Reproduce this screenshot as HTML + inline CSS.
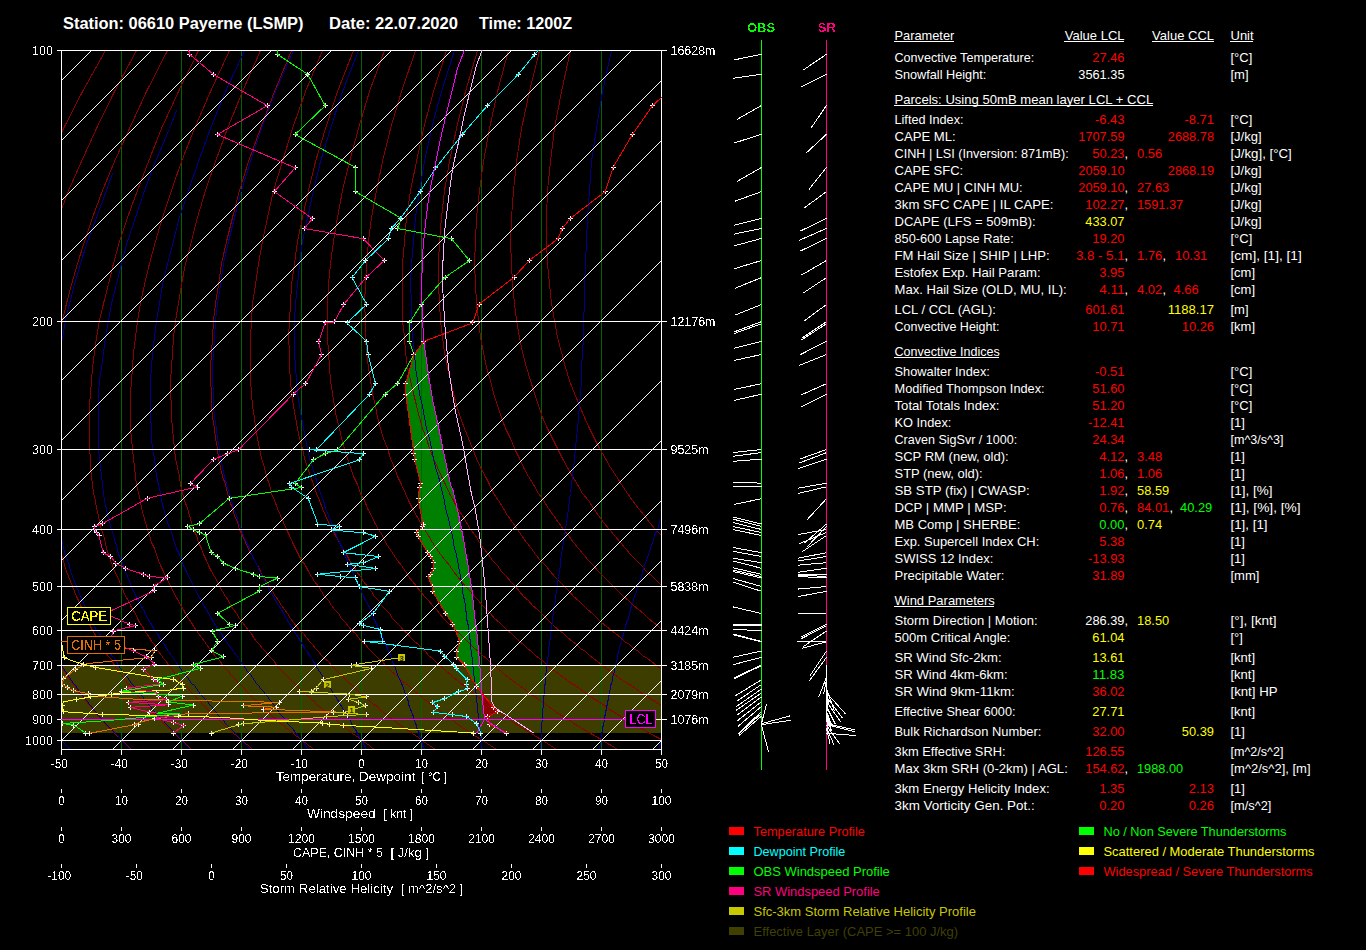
<!DOCTYPE html>
<html><head><meta charset="utf-8"><title>Sounding</title><style>html,body{margin:0;padding:0;background:#000;width:1366px;height:950px;overflow:hidden}</style></head><body>
<svg width="1366" height="950" viewBox="0 0 1366 950" style="position:absolute;left:0;top:0" font-family="'Liberation Sans', sans-serif" font-size="13px" fill="#fff">
<defs><filter id="bl" x="0" y="0" width="1" height="1" filterUnits="objectBoundingBox" color-interpolation-filters="sRGB"><feComponentTransfer><feFuncA type="discrete" tableValues="0 0 0 0 0 0 0 0 0 0 0 1 1 1 1 1 1 1 1 1"/></feComponentTransfer></filter><filter id="bl2" x="0" y="0" width="1" height="1" filterUnits="objectBoundingBox" color-interpolation-filters="sRGB"><feComponentTransfer><feFuncA type="discrete" tableValues="0 0 0 0 0 0 0 0 0 1 1 1 1 1 1 1 1 1 1 1"/></feComponentTransfer></filter><clipPath id="cp"><rect x="61" y="50" width="601" height="700"/></clipPath></defs>
<g shape-rendering="crispEdges">
<g clip-path="url(#cp)">
<rect x="61" y="665" width="600" height="68" fill="#3e3d00"/>
<polygon points="423.9,341.4 413.9,354.7 405.6,383.5 405.6,394.1 413.4,449.7 413.9,453.7 414.6,459.7 420.7,483.5 419.6,487.5 418.0,498.3 423.0,524.1 422.2,526.6 416.3,532.4 418.0,536.2 427.6,552.7 430.5,556.5 433.8,562.7 433.8,568.2 430.5,574.3 428.0,576.5 432.1,586.5 432.6,591.4 445.4,613.4 452.9,624.4 459.6,641.0 456.9,651.5 456.9,657.7 464.2,664.6 476.1,686.1 481.5,691.0 481.5,690.7 480.7,675.4 479.6,663.1 477.6,640.0 476.7,631.4 474.5,614.7 472.0,589.8 467.9,564.8 463.7,539.9 458.7,514.9 452.9,490.0 450.7,485.5 446.5,465.5 442.2,445.4 437.7,422.9 432.7,400.3 428.9,377.8 425.7,355.2 423.9,341.4" fill="#008000"/>
<polygon points="481.5,691.0 493.8,707.6 497.6,711.5 487.6,716.6 484.5,719.2 484.5,719.2 483.8,712.3 482.7,701.5" fill="#8b0000"/>
<line x1="121.5" y1="50.5" x2="121.5" y2="749.5" stroke="#006400" stroke-width="1"/>
<line x1="181.5" y1="50.5" x2="181.5" y2="749.5" stroke="#006400" stroke-width="1"/>
<line x1="241.5" y1="50.5" x2="241.5" y2="749.5" stroke="#006400" stroke-width="1"/>
<line x1="301.5" y1="50.5" x2="301.5" y2="749.5" stroke="#006400" stroke-width="1"/>
<line x1="361.5" y1="50.5" x2="361.5" y2="749.5" stroke="#006400" stroke-width="1"/>
<line x1="421.5" y1="50.5" x2="421.5" y2="749.5" stroke="#006400" stroke-width="1"/>
<line x1="481.5" y1="50.5" x2="481.5" y2="749.5" stroke="#006400" stroke-width="1"/>
<line x1="541.5" y1="50.5" x2="541.5" y2="749.5" stroke="#006400" stroke-width="1"/>
<line x1="601.5" y1="50.5" x2="601.5" y2="749.5" stroke="#006400" stroke-width="1"/>
<polyline points="70.5,749.5 68.5,747.5 66.5,745.5 64.5,743.5 62.5,741.5 61.5,739.5 59.5,737.5 57.5,735.5 55.5,733.5 53.5,731.5 51.5,729.5 49.5,727.5 48.5,725.5 46.5,723.5 44.5,720.5 42.5,718.5 40.5,716.5 38.5,714.5 37.5,711.5 35.5,709.5 33.5,706.5 31.5,704.5 29.5,701.5 27.5,699.5 25.5,696.5 24.5,694.5 22.5,691.5 20.5,688.5 18.5,685.5 16.5,683.5 15.5,680.5 13.5,677.5 11.5,674.5 9.5,671.5 7.5,668.5 6.5,665.5 4.5,661.5 2.5,658.5 0.5,655.5 -0.5,651.5 -2.5,648.5 -4.5,644.5 -6.5,641.5 -7.5,637.5 -9.5,633.5 -11.5,630.5 -12.5,626.5 -14.5,622.5 -15.5,618.5 -17.5,613.5 -19.5,609.5 -20.5,605.5 -22.5,600.5 -23.5,596.5 -24.5,591.5 -26.5,586.5 -27.5,581.5 -28.5,576.5 -30.5,571.5 -31.5,565.5 -32.5,560.5 -33.5,554.5 -34.5,548.5 -35.5,542.5 -36.5,535.5 -37.5,529.5 -37.5,522.5 -38.5,515.5 -38.5,508.5 -39.5,500.5 -39.5,493.5 -39.5,484.5 -39.5,476.5 -39.5,467.5 -38.5,458.5 -38.5,448.5 -37.5,438.5 -36.5,428.5 -34.5,417.5 -32.5,405.5 -30.5,393.5 -28.5,380.5 -25.5,367.5 -22.5,352.5 -18.5,337.5 -13.5,320.5 -8.5,303.5 -2.5,284.5 5.5,263.5 13.5,241.5 23.5,217.5 34.5,190.5 47.5,161.5 63.5,128.5 82.5,91.5 105.5,50.5" stroke="#8b0000" stroke-width="1" fill="none" />
<polyline points="131.5,749.5 129.5,747.5 127.5,745.5 125.5,743.5 123.5,741.5 121.5,739.5 119.5,737.5 116.5,735.5 114.5,733.5 112.5,731.5 110.5,729.5 108.5,727.5 106.5,725.5 104.5,723.5 102.5,720.5 100.5,718.5 98.5,716.5 96.5,714.5 94.5,711.5 92.5,709.5 90.5,706.5 88.5,704.5 86.5,701.5 84.5,699.5 82.5,696.5 80.5,694.5 78.5,691.5 76.5,688.5 74.5,685.5 72.5,683.5 70.5,680.5 68.5,677.5 66.5,674.5 64.5,671.5 62.5,668.5 60.5,665.5 58.5,661.5 56.5,658.5 54.5,655.5 52.5,651.5 50.5,648.5 48.5,644.5 46.5,641.5 44.5,637.5 42.5,633.5 40.5,630.5 38.5,626.5 37.5,622.5 35.5,618.5 33.5,613.5 31.5,609.5 29.5,605.5 28.5,600.5 26.5,596.5 24.5,591.5 22.5,586.5 21.5,581.5 19.5,576.5 18.5,571.5 16.5,565.5 15.5,560.5 13.5,554.5 12.5,548.5 11.5,542.5 10.5,535.5 9.5,529.5 8.5,522.5 7.5,515.5 6.5,508.5 5.5,500.5 5.5,493.5 4.5,484.5 4.5,476.5 4.5,467.5 4.5,458.5 4.5,448.5 4.5,438.5 5.5,428.5 6.5,417.5 7.5,405.5 9.5,393.5 11.5,380.5 13.5,367.5 16.5,352.5 20.5,337.5 24.5,320.5 28.5,303.5 34.5,284.5 41.5,263.5 48.5,241.5 58.5,217.5 68.5,190.5 81.5,161.5 96.5,128.5 114.5,91.5 136.5,50.5" stroke="#8b0000" stroke-width="1" fill="none" />
<polyline points="191.5,749.5 189.5,747.5 187.5,745.5 185.5,743.5 183.5,741.5 181.5,739.5 178.5,737.5 176.5,735.5 174.5,733.5 172.5,731.5 170.5,729.5 167.5,727.5 165.5,725.5 163.5,723.5 161.5,720.5 159.5,718.5 156.5,716.5 154.5,714.5 152.5,711.5 150.5,709.5 147.5,706.5 145.5,704.5 143.5,701.5 141.5,699.5 138.5,696.5 136.5,694.5 134.5,691.5 132.5,688.5 130.5,685.5 127.5,683.5 125.5,680.5 123.5,677.5 121.5,674.5 118.5,671.5 116.5,668.5 114.5,665.5 112.5,661.5 110.5,658.5 107.5,655.5 105.5,651.5 103.5,648.5 101.5,644.5 99.5,641.5 96.5,637.5 94.5,633.5 92.5,630.5 90.5,626.5 88.5,622.5 86.5,618.5 84.5,613.5 82.5,609.5 80.5,605.5 78.5,600.5 76.5,596.5 74.5,591.5 72.5,586.5 70.5,581.5 68.5,576.5 66.5,571.5 64.5,565.5 63.5,560.5 61.5,554.5 59.5,548.5 58.5,542.5 56.5,535.5 55.5,529.5 53.5,522.5 52.5,515.5 51.5,508.5 50.5,500.5 49.5,493.5 48.5,484.5 48.5,476.5 47.5,467.5 47.5,458.5 47.5,448.5 47.5,438.5 47.5,428.5 47.5,417.5 48.5,405.5 49.5,393.5 51.5,380.5 53.5,367.5 55.5,352.5 58.5,337.5 62.5,320.5 66.5,303.5 71.5,284.5 77.5,263.5 84.5,241.5 92.5,217.5 102.5,190.5 114.5,161.5 129.5,128.5 146.5,91.5 167.5,50.5" stroke="#8b0000" stroke-width="1" fill="none" />
<polyline points="252.5,749.5 250.5,747.5 248.5,745.5 245.5,743.5 243.5,741.5 241.5,739.5 238.5,737.5 236.5,735.5 233.5,733.5 231.5,731.5 229.5,729.5 226.5,727.5 224.5,725.5 222.5,723.5 219.5,720.5 217.5,718.5 214.5,716.5 212.5,714.5 210.5,711.5 207.5,709.5 205.5,706.5 202.5,704.5 200.5,701.5 197.5,699.5 195.5,696.5 193.5,694.5 190.5,691.5 188.5,688.5 185.5,685.5 183.5,683.5 180.5,680.5 178.5,677.5 175.5,674.5 173.5,671.5 171.5,668.5 168.5,665.5 166.5,661.5 163.5,658.5 161.5,655.5 158.5,651.5 156.5,648.5 154.5,644.5 151.5,641.5 149.5,637.5 146.5,633.5 144.5,630.5 142.5,626.5 139.5,622.5 137.5,618.5 135.5,613.5 132.5,609.5 130.5,605.5 128.5,600.5 125.5,596.5 123.5,591.5 121.5,586.5 119.5,581.5 117.5,576.5 114.5,571.5 112.5,565.5 110.5,560.5 108.5,554.5 106.5,548.5 105.5,542.5 103.5,535.5 101.5,529.5 99.5,522.5 98.5,515.5 96.5,508.5 95.5,500.5 93.5,493.5 92.5,484.5 91.5,476.5 90.5,467.5 90.5,458.5 89.5,448.5 89.5,438.5 89.5,428.5 89.5,417.5 89.5,405.5 90.5,393.5 91.5,380.5 92.5,367.5 94.5,352.5 96.5,337.5 99.5,320.5 103.5,303.5 108.5,284.5 113.5,263.5 119.5,241.5 127.5,217.5 137.5,190.5 148.5,161.5 161.5,128.5 178.5,91.5 198.5,50.5" stroke="#8b0000" stroke-width="1" fill="none" />
<polyline points="313.5,749.5 311.5,747.5 308.5,745.5 306.5,743.5 303.5,741.5 301.5,739.5 298.5,737.5 295.5,735.5 293.5,733.5 290.5,731.5 288.5,729.5 285.5,727.5 283.5,725.5 280.5,723.5 278.5,720.5 275.5,718.5 272.5,716.5 270.5,714.5 267.5,711.5 265.5,709.5 262.5,706.5 259.5,704.5 257.5,701.5 254.5,699.5 251.5,696.5 249.5,694.5 246.5,691.5 244.5,688.5 241.5,685.5 238.5,683.5 236.5,680.5 233.5,677.5 230.5,674.5 228.5,671.5 225.5,668.5 222.5,665.5 220.5,661.5 217.5,658.5 214.5,655.5 212.5,651.5 209.5,648.5 206.5,644.5 204.5,641.5 201.5,637.5 198.5,633.5 196.5,630.5 193.5,626.5 191.5,622.5 188.5,618.5 185.5,613.5 183.5,609.5 180.5,605.5 178.5,600.5 175.5,596.5 173.5,591.5 170.5,586.5 168.5,581.5 165.5,576.5 163.5,571.5 160.5,565.5 158.5,560.5 156.5,554.5 154.5,548.5 151.5,542.5 149.5,535.5 147.5,529.5 145.5,522.5 143.5,515.5 141.5,508.5 140.5,500.5 138.5,493.5 136.5,484.5 135.5,476.5 134.5,467.5 133.5,458.5 132.5,448.5 131.5,438.5 130.5,428.5 130.5,417.5 130.5,405.5 130.5,393.5 131.5,380.5 132.5,367.5 133.5,352.5 135.5,337.5 137.5,320.5 140.5,303.5 144.5,284.5 149.5,263.5 155.5,241.5 162.5,217.5 171.5,190.5 181.5,161.5 194.5,128.5 210.5,91.5 229.5,50.5" stroke="#8b0000" stroke-width="1" fill="none" />
<polyline points="374.5,749.5 371.5,747.5 369.5,745.5 366.5,743.5 363.5,741.5 361.5,739.5 358.5,737.5 355.5,735.5 352.5,733.5 350.5,731.5 347.5,729.5 344.5,727.5 341.5,725.5 339.5,723.5 336.5,720.5 333.5,718.5 330.5,716.5 328.5,714.5 325.5,711.5 322.5,709.5 319.5,706.5 316.5,704.5 314.5,701.5 311.5,699.5 308.5,696.5 305.5,694.5 302.5,691.5 299.5,688.5 297.5,685.5 294.5,683.5 291.5,680.5 288.5,677.5 285.5,674.5 282.5,671.5 279.5,668.5 276.5,665.5 274.5,661.5 271.5,658.5 268.5,655.5 265.5,651.5 262.5,648.5 259.5,644.5 256.5,641.5 253.5,637.5 251.5,633.5 248.5,630.5 245.5,626.5 242.5,622.5 239.5,618.5 236.5,613.5 233.5,609.5 230.5,605.5 228.5,600.5 225.5,596.5 222.5,591.5 219.5,586.5 217.5,581.5 214.5,576.5 211.5,571.5 208.5,565.5 206.5,560.5 203.5,554.5 201.5,548.5 198.5,542.5 196.5,535.5 193.5,529.5 191.5,522.5 189.5,515.5 187.5,508.5 184.5,500.5 182.5,493.5 180.5,484.5 179.5,476.5 177.5,467.5 175.5,458.5 174.5,448.5 173.5,438.5 172.5,428.5 171.5,417.5 171.5,405.5 170.5,393.5 170.5,380.5 171.5,367.5 172.5,352.5 173.5,337.5 175.5,320.5 178.5,303.5 181.5,284.5 185.5,263.5 191.5,241.5 197.5,217.5 205.5,190.5 215.5,161.5 227.5,128.5 242.5,91.5 260.5,50.5" stroke="#8b0000" stroke-width="1" fill="none" />
<polyline points="435.5,749.5 432.5,747.5 429.5,745.5 426.5,743.5 423.5,741.5 421.5,739.5 418.5,737.5 415.5,735.5 412.5,733.5 409.5,731.5 406.5,729.5 403.5,727.5 400.5,725.5 397.5,723.5 394.5,720.5 391.5,718.5 388.5,716.5 385.5,714.5 382.5,711.5 379.5,709.5 377.5,706.5 373.5,704.5 370.5,701.5 367.5,699.5 364.5,696.5 361.5,694.5 358.5,691.5 355.5,688.5 352.5,685.5 349.5,683.5 346.5,680.5 343.5,677.5 340.5,674.5 337.5,671.5 334.5,668.5 331.5,665.5 328.5,661.5 324.5,658.5 321.5,655.5 318.5,651.5 315.5,648.5 312.5,644.5 309.5,641.5 306.5,637.5 303.5,633.5 299.5,630.5 296.5,626.5 293.5,622.5 290.5,618.5 287.5,613.5 284.5,609.5 281.5,605.5 278.5,600.5 275.5,596.5 272.5,591.5 269.5,586.5 266.5,581.5 262.5,576.5 260.5,571.5 257.5,565.5 254.5,560.5 251.5,554.5 248.5,548.5 245.5,542.5 242.5,535.5 239.5,529.5 237.5,522.5 234.5,515.5 232.5,508.5 229.5,500.5 227.5,493.5 225.5,484.5 222.5,476.5 220.5,467.5 218.5,458.5 217.5,448.5 215.5,438.5 214.5,428.5 212.5,417.5 211.5,405.5 211.5,393.5 210.5,380.5 210.5,367.5 211.5,352.5 212.5,337.5 213.5,320.5 215.5,303.5 218.5,284.5 221.5,263.5 226.5,241.5 232.5,217.5 239.5,190.5 248.5,161.5 260.5,128.5 274.5,91.5 291.5,50.5" stroke="#8b0000" stroke-width="1" fill="none" />
<polyline points="496.5,749.5 493.5,747.5 490.5,745.5 487.5,743.5 484.5,741.5 481.5,739.5 477.5,737.5 474.5,735.5 471.5,733.5 468.5,731.5 465.5,729.5 462.5,727.5 459.5,725.5 456.5,723.5 453.5,720.5 450.5,718.5 446.5,716.5 443.5,714.5 440.5,711.5 437.5,709.5 434.5,706.5 431.5,704.5 427.5,701.5 424.5,699.5 421.5,696.5 418.5,694.5 414.5,691.5 411.5,688.5 408.5,685.5 405.5,683.5 401.5,680.5 398.5,677.5 395.5,674.5 391.5,671.5 388.5,668.5 385.5,665.5 382.5,661.5 378.5,658.5 375.5,655.5 371.5,651.5 368.5,648.5 365.5,644.5 361.5,641.5 358.5,637.5 355.5,633.5 351.5,630.5 348.5,626.5 345.5,622.5 341.5,618.5 338.5,613.5 334.5,609.5 331.5,605.5 328.5,600.5 324.5,596.5 321.5,591.5 318.5,586.5 314.5,581.5 311.5,576.5 308.5,571.5 305.5,565.5 301.5,560.5 298.5,554.5 295.5,548.5 292.5,542.5 289.5,535.5 286.5,529.5 283.5,522.5 280.5,515.5 277.5,508.5 274.5,500.5 271.5,493.5 269.5,484.5 266.5,476.5 264.5,467.5 261.5,458.5 259.5,448.5 257.5,438.5 255.5,428.5 254.5,417.5 252.5,405.5 251.5,393.5 250.5,380.5 250.5,367.5 250.5,352.5 250.5,337.5 251.5,320.5 252.5,303.5 255.5,284.5 258.5,263.5 262.5,241.5 267.5,217.5 273.5,190.5 282.5,161.5 292.5,128.5 305.5,91.5 322.5,50.5" stroke="#8b0000" stroke-width="1" fill="none" />
<polyline points="556.5,749.5 553.5,747.5 550.5,745.5 547.5,743.5 544.5,741.5 541.5,739.5 537.5,737.5 534.5,735.5 531.5,733.5 528.5,731.5 524.5,729.5 521.5,727.5 518.5,725.5 514.5,723.5 511.5,720.5 508.5,718.5 504.5,716.5 501.5,714.5 498.5,711.5 494.5,709.5 491.5,706.5 488.5,704.5 484.5,701.5 481.5,699.5 477.5,696.5 474.5,694.5 471.5,691.5 467.5,688.5 464.5,685.5 460.5,683.5 457.5,680.5 453.5,677.5 450.5,674.5 446.5,671.5 443.5,668.5 439.5,665.5 435.5,661.5 432.5,658.5 428.5,655.5 425.5,651.5 421.5,648.5 418.5,644.5 414.5,641.5 410.5,637.5 407.5,633.5 403.5,630.5 400.5,626.5 396.5,622.5 392.5,618.5 389.5,613.5 385.5,609.5 381.5,605.5 378.5,600.5 374.5,596.5 371.5,591.5 367.5,586.5 363.5,581.5 360.5,576.5 356.5,571.5 353.5,565.5 349.5,560.5 346.5,554.5 342.5,548.5 339.5,542.5 335.5,535.5 332.5,529.5 328.5,522.5 325.5,515.5 322.5,508.5 319.5,500.5 316.5,493.5 313.5,484.5 310.5,476.5 307.5,467.5 304.5,458.5 302.5,448.5 299.5,438.5 297.5,428.5 295.5,417.5 293.5,405.5 291.5,393.5 290.5,380.5 289.5,367.5 289.5,352.5 288.5,337.5 289.5,320.5 290.5,303.5 291.5,284.5 294.5,263.5 297.5,241.5 302.5,217.5 308.5,190.5 315.5,161.5 325.5,128.5 337.5,91.5 353.5,50.5" stroke="#8b0000" stroke-width="1" fill="none" />
<polyline points="617.5,749.5 614.5,747.5 611.5,745.5 607.5,743.5 604.5,741.5 601.5,739.5 597.5,737.5 594.5,735.5 590.5,733.5 587.5,731.5 583.5,729.5 580.5,727.5 577.5,725.5 573.5,723.5 570.5,720.5 566.5,718.5 563.5,716.5 559.5,714.5 555.5,711.5 552.5,709.5 548.5,706.5 545.5,704.5 541.5,701.5 538.5,699.5 534.5,696.5 530.5,694.5 527.5,691.5 523.5,688.5 519.5,685.5 516.5,683.5 512.5,680.5 508.5,677.5 504.5,674.5 501.5,671.5 497.5,668.5 493.5,665.5 489.5,661.5 486.5,658.5 482.5,655.5 478.5,651.5 474.5,648.5 470.5,644.5 467.5,641.5 463.5,637.5 459.5,633.5 455.5,630.5 451.5,626.5 447.5,622.5 443.5,618.5 439.5,613.5 436.5,609.5 432.5,605.5 428.5,600.5 424.5,596.5 420.5,591.5 416.5,586.5 412.5,581.5 408.5,576.5 405.5,571.5 401.5,565.5 397.5,560.5 393.5,554.5 389.5,548.5 385.5,542.5 382.5,535.5 378.5,529.5 374.5,522.5 371.5,515.5 367.5,508.5 364.5,500.5 360.5,493.5 357.5,484.5 353.5,476.5 350.5,467.5 347.5,458.5 344.5,448.5 341.5,438.5 339.5,428.5 336.5,417.5 334.5,405.5 332.5,393.5 330.5,380.5 329.5,367.5 328.5,352.5 327.5,337.5 327.5,320.5 327.5,303.5 328.5,284.5 330.5,263.5 333.5,241.5 337.5,217.5 342.5,190.5 349.5,161.5 358.5,128.5 369.5,91.5 384.5,50.5" stroke="#8b0000" stroke-width="1" fill="none" />
<polyline points="678.5,749.5 675.5,747.5 671.5,745.5 668.5,743.5 664.5,741.5 661.5,739.5 657.5,737.5 653.5,735.5 650.5,733.5 646.5,731.5 643.5,729.5 639.5,727.5 635.5,725.5 632.5,723.5 628.5,720.5 624.5,718.5 621.5,716.5 617.5,714.5 613.5,711.5 609.5,709.5 606.5,706.5 602.5,704.5 598.5,701.5 594.5,699.5 590.5,696.5 587.5,694.5 583.5,691.5 579.5,688.5 575.5,685.5 571.5,683.5 567.5,680.5 563.5,677.5 559.5,674.5 555.5,671.5 551.5,668.5 547.5,665.5 543.5,661.5 539.5,658.5 535.5,655.5 531.5,651.5 527.5,648.5 523.5,644.5 519.5,641.5 515.5,637.5 511.5,633.5 507.5,630.5 503.5,626.5 499.5,622.5 494.5,618.5 490.5,613.5 486.5,609.5 482.5,605.5 478.5,600.5 474.5,596.5 470.5,591.5 465.5,586.5 461.5,581.5 457.5,576.5 453.5,571.5 449.5,565.5 445.5,560.5 440.5,554.5 436.5,548.5 432.5,542.5 428.5,535.5 424.5,529.5 420.5,522.5 416.5,515.5 412.5,508.5 408.5,500.5 405.5,493.5 401.5,484.5 397.5,476.5 394.5,467.5 390.5,458.5 387.5,448.5 383.5,438.5 380.5,428.5 377.5,417.5 375.5,405.5 372.5,393.5 370.5,380.5 368.5,367.5 366.5,352.5 365.5,337.5 365.5,320.5 364.5,303.5 365.5,284.5 366.5,263.5 368.5,241.5 371.5,217.5 376.5,190.5 382.5,161.5 390.5,128.5 401.5,91.5 415.5,50.5" stroke="#8b0000" stroke-width="1" fill="none" />
<polyline points="739.5,749.5 735.5,747.5 732.5,745.5 728.5,743.5 724.5,741.5 721.5,739.5 717.5,737.5 713.5,735.5 709.5,733.5 705.5,731.5 702.5,729.5 698.5,727.5 694.5,725.5 690.5,723.5 686.5,720.5 682.5,718.5 679.5,716.5 675.5,714.5 671.5,711.5 667.5,709.5 663.5,706.5 659.5,704.5 655.5,701.5 651.5,699.5 647.5,696.5 643.5,694.5 639.5,691.5 635.5,688.5 631.5,685.5 627.5,683.5 622.5,680.5 618.5,677.5 614.5,674.5 610.5,671.5 606.5,668.5 602.5,665.5 597.5,661.5 593.5,658.5 589.5,655.5 585.5,651.5 580.5,648.5 576.5,644.5 572.5,641.5 567.5,637.5 563.5,633.5 559.5,630.5 554.5,626.5 550.5,622.5 546.5,618.5 541.5,613.5 537.5,609.5 532.5,605.5 528.5,600.5 523.5,596.5 519.5,591.5 515.5,586.5 510.5,581.5 506.5,576.5 501.5,571.5 497.5,565.5 492.5,560.5 488.5,554.5 483.5,548.5 479.5,542.5 475.5,535.5 470.5,529.5 466.5,522.5 462.5,515.5 457.5,508.5 453.5,500.5 449.5,493.5 445.5,484.5 441.5,476.5 437.5,467.5 433.5,458.5 429.5,448.5 426.5,438.5 422.5,428.5 419.5,417.5 416.5,405.5 413.5,393.5 410.5,380.5 407.5,367.5 405.5,352.5 404.5,337.5 402.5,320.5 402.5,303.5 402.5,284.5 402.5,263.5 404.5,241.5 406.5,217.5 410.5,190.5 416.5,161.5 423.5,128.5 433.5,91.5 446.5,50.5" stroke="#8b0000" stroke-width="1" fill="none" />
<polyline points="800.5,749.5 796.5,747.5 792.5,745.5 788.5,743.5 784.5,741.5 781.5,739.5 777.5,737.5 773.5,735.5 769.5,733.5 765.5,731.5 761.5,729.5 757.5,727.5 753.5,725.5 749.5,723.5 745.5,720.5 741.5,718.5 737.5,716.5 733.5,714.5 728.5,711.5 724.5,709.5 720.5,706.5 716.5,704.5 712.5,701.5 708.5,699.5 703.5,696.5 699.5,694.5 695.5,691.5 691.5,688.5 686.5,685.5 682.5,683.5 678.5,680.5 673.5,677.5 669.5,674.5 665.5,671.5 660.5,668.5 656.5,665.5 651.5,661.5 647.5,658.5 642.5,655.5 638.5,651.5 633.5,648.5 629.5,644.5 624.5,641.5 620.5,637.5 615.5,633.5 611.5,630.5 606.5,626.5 601.5,622.5 597.5,618.5 592.5,613.5 587.5,609.5 583.5,605.5 578.5,600.5 573.5,596.5 569.5,591.5 564.5,586.5 559.5,581.5 554.5,576.5 550.5,571.5 545.5,565.5 540.5,560.5 535.5,554.5 531.5,548.5 526.5,542.5 521.5,535.5 517.5,529.5 512.5,522.5 507.5,515.5 503.5,508.5 498.5,500.5 493.5,493.5 489.5,484.5 485.5,476.5 480.5,467.5 476.5,458.5 472.5,448.5 468.5,438.5 464.5,428.5 460.5,417.5 456.5,405.5 453.5,393.5 450.5,380.5 447.5,367.5 444.5,352.5 442.5,337.5 440.5,320.5 439.5,303.5 438.5,284.5 438.5,263.5 439.5,241.5 441.5,217.5 444.5,190.5 449.5,161.5 456.5,128.5 465.5,91.5 477.5,50.5" stroke="#8b0000" stroke-width="1" fill="none" />
<polyline points="861.5,749.5 857.5,747.5 853.5,745.5 849.5,743.5 845.5,741.5 841.5,739.5 836.5,737.5 832.5,735.5 828.5,733.5 824.5,731.5 820.5,729.5 816.5,727.5 812.5,725.5 807.5,723.5 803.5,720.5 799.5,718.5 795.5,716.5 790.5,714.5 786.5,711.5 782.5,709.5 777.5,706.5 773.5,704.5 769.5,701.5 764.5,699.5 760.5,696.5 755.5,694.5 751.5,691.5 746.5,688.5 742.5,685.5 737.5,683.5 733.5,680.5 728.5,677.5 724.5,674.5 719.5,671.5 715.5,668.5 710.5,665.5 705.5,661.5 701.5,658.5 696.5,655.5 691.5,651.5 686.5,648.5 682.5,644.5 677.5,641.5 672.5,637.5 667.5,633.5 662.5,630.5 658.5,626.5 653.5,622.5 648.5,618.5 643.5,613.5 638.5,609.5 633.5,605.5 628.5,600.5 623.5,596.5 618.5,591.5 613.5,586.5 608.5,581.5 603.5,576.5 598.5,571.5 593.5,565.5 588.5,560.5 583.5,554.5 578.5,548.5 573.5,542.5 568.5,535.5 563.5,529.5 558.5,522.5 553.5,515.5 548.5,508.5 543.5,500.5 538.5,493.5 533.5,484.5 528.5,476.5 523.5,467.5 519.5,458.5 514.5,448.5 510.5,438.5 505.5,428.5 501.5,417.5 497.5,405.5 493.5,393.5 490.5,380.5 486.5,367.5 483.5,352.5 480.5,337.5 478.5,320.5 476.5,303.5 475.5,284.5 474.5,263.5 475.5,241.5 476.5,217.5 479.5,190.5 483.5,161.5 489.5,128.5 497.5,91.5 508.5,50.5" stroke="#8b0000" stroke-width="1" fill="none" />
<polyline points="921.5,749.5 917.5,747.5 913.5,745.5 909.5,743.5 905.5,741.5 901.5,739.5 896.5,737.5 892.5,735.5 888.5,733.5 883.5,731.5 879.5,729.5 875.5,727.5 870.5,725.5 866.5,723.5 862.5,720.5 857.5,718.5 853.5,716.5 848.5,714.5 844.5,711.5 839.5,709.5 835.5,706.5 830.5,704.5 826.5,701.5 821.5,699.5 816.5,696.5 812.5,694.5 807.5,691.5 802.5,688.5 798.5,685.5 793.5,683.5 788.5,680.5 783.5,677.5 779.5,674.5 774.5,671.5 769.5,668.5 764.5,665.5 759.5,661.5 754.5,658.5 749.5,655.5 744.5,651.5 739.5,648.5 734.5,644.5 729.5,641.5 724.5,637.5 719.5,633.5 714.5,630.5 709.5,626.5 704.5,622.5 699.5,618.5 694.5,613.5 688.5,609.5 683.5,605.5 678.5,600.5 673.5,596.5 667.5,591.5 662.5,586.5 657.5,581.5 652.5,576.5 646.5,571.5 641.5,565.5 636.5,560.5 630.5,554.5 625.5,548.5 620.5,542.5 614.5,535.5 609.5,529.5 603.5,522.5 598.5,515.5 593.5,508.5 588.5,500.5 582.5,493.5 577.5,484.5 572.5,476.5 567.5,467.5 562.5,458.5 557.5,448.5 552.5,438.5 547.5,428.5 542.5,417.5 538.5,405.5 534.5,393.5 530.5,380.5 526.5,367.5 522.5,352.5 519.5,337.5 516.5,320.5 514.5,303.5 512.5,284.5 511.5,263.5 510.5,241.5 511.5,217.5 513.5,190.5 516.5,161.5 521.5,128.5 529.5,91.5 539.5,50.5" stroke="#8b0000" stroke-width="1" fill="none" />
<polyline points="982.5,749.5 978.5,747.5 974.5,745.5 969.5,743.5 965.5,741.5 961.5,739.5 956.5,737.5 952.5,735.5 947.5,733.5 943.5,731.5 938.5,729.5 934.5,727.5 929.5,725.5 925.5,723.5 920.5,720.5 915.5,718.5 911.5,716.5 906.5,714.5 901.5,711.5 897.5,709.5 892.5,706.5 887.5,704.5 882.5,701.5 878.5,699.5 873.5,696.5 868.5,694.5 863.5,691.5 858.5,688.5 853.5,685.5 848.5,683.5 843.5,680.5 838.5,677.5 833.5,674.5 828.5,671.5 823.5,668.5 818.5,665.5 813.5,661.5 808.5,658.5 803.5,655.5 798.5,651.5 792.5,648.5 787.5,644.5 782.5,641.5 777.5,637.5 771.5,633.5 766.5,630.5 761.5,626.5 755.5,622.5 750.5,618.5 744.5,613.5 739.5,609.5 734.5,605.5 728.5,600.5 723.5,596.5 717.5,591.5 711.5,586.5 706.5,581.5 700.5,576.5 695.5,571.5 689.5,565.5 683.5,560.5 678.5,554.5 672.5,548.5 666.5,542.5 661.5,535.5 655.5,529.5 649.5,522.5 644.5,515.5 638.5,508.5 632.5,500.5 627.5,493.5 621.5,484.5 616.5,476.5 610.5,467.5 605.5,458.5 599.5,448.5 594.5,438.5 589.5,428.5 584.5,417.5 579.5,405.5 574.5,393.5 569.5,380.5 565.5,367.5 561.5,352.5 557.5,337.5 554.5,320.5 551.5,303.5 549.5,284.5 547.5,263.5 546.5,241.5 546.5,217.5 547.5,190.5 550.5,161.5 554.5,128.5 561.5,91.5 570.5,50.5" stroke="#8b0000" stroke-width="1" fill="none" />
<polyline points="69.5,749.5 68.5,747.5 66.5,745.5 64.5,743.5 62.5,741.5 61.5,739.5 59.5,737.5 57.5,735.5 55.5,733.5 53.5,731.5 51.5,729.5 50.5,727.5 48.5,725.5 46.5,723.5 44.5,720.5 42.5,718.5 41.5,716.5 39.5,714.5 37.5,711.5 35.5,709.5 33.5,706.5 31.5,704.5 30.5,701.5 28.5,699.5 26.5,696.5 24.5,694.5 22.5,691.5 21.5,688.5 19.5,685.5 17.5,683.5 15.5,680.5 13.5,677.5 11.5,674.5 10.5,671.5 8.5,668.5 6.5,665.5 4.5,661.5 3.5,658.5 1.5,655.5 -0.5,651.5 -2.5,648.5 -3.5,644.5 -5.5,641.5 -7.5,637.5 -8.5,633.5 -10.5,630.5 -12.5,626.5 -13.5,622.5 -15.5,618.5 -16.5,613.5 -18.5,609.5 -19.5,605.5 -21.5,600.5 -22.5,596.5 -24.5,591.5 -25.5,586.5 -26.5,581.5 -28.5,576.5 -29.5,571.5 -30.5,565.5 -31.5,560.5 -32.5,554.5 -33.5,548.5 -34.5,542.5 -35.5,535.5 -36.5,529.5 -37.5,522.5 -37.5,515.5 -38.5,508.5 -38.5,500.5 -38.5,493.5 -38.5,484.5 -38.5,476.5 -38.5,467.5 -38.5,458.5 -37.5,448.5 -36.5,438.5 -35.5,428.5 -34.5,417.5 -32.5,405.5 -30.5,393.5 -27.5,380.5 -24.5,367.5 -21.5,352.5 -17.5,337.5 -13.5,320.5 -7.5,303.5 -4.5,291.5" stroke="#00008b" stroke-width="1" fill="none" />
<polyline points="130.5,749.5 128.5,747.5 126.5,745.5 124.5,743.5 122.5,741.5 121.5,739.5 119.5,737.5 117.5,735.5 115.5,733.5 113.5,731.5 111.5,729.5 109.5,727.5 107.5,725.5 105.5,723.5 103.5,720.5 101.5,718.5 99.5,716.5 97.5,714.5 95.5,711.5 93.5,709.5 91.5,706.5 89.5,704.5 87.5,701.5 85.5,699.5 83.5,696.5 81.5,694.5 79.5,691.5 77.5,688.5 75.5,685.5 73.5,683.5 71.5,680.5 69.5,677.5 67.5,674.5 65.5,671.5 63.5,668.5 61.5,665.5 59.5,661.5 57.5,658.5 55.5,655.5 53.5,651.5 52.5,648.5 50.5,644.5 48.5,641.5 46.5,637.5 44.5,633.5 42.5,630.5 40.5,626.5 38.5,622.5 36.5,618.5 35.5,613.5 33.5,609.5 31.5,605.5 29.5,600.5 27.5,596.5 26.5,591.5 24.5,586.5 23.5,581.5 21.5,576.5 19.5,571.5 18.5,565.5 17.5,560.5 15.5,554.5 14.5,548.5 13.5,542.5 11.5,535.5 10.5,529.5 9.5,522.5 8.5,515.5 7.5,508.5 7.5,500.5 6.5,493.5 6.5,484.5 5.5,476.5 5.5,467.5 5.5,458.5 6.5,448.5 6.5,438.5 7.5,428.5 8.5,417.5 9.5,405.5 10.5,393.5 12.5,380.5 15.5,367.5 18.5,352.5 21.5,337.5 25.5,320.5 30.5,303.5 36.5,284.5 42.5,263.5 50.5,241.5 52.5,234.5" stroke="#00008b" stroke-width="1" fill="none" />
<polyline points="190.5,749.5 188.5,747.5 186.5,745.5 184.5,743.5 182.5,741.5 181.5,739.5 179.5,737.5 177.5,735.5 175.5,733.5 173.5,731.5 171.5,729.5 169.5,727.5 167.5,725.5 165.5,723.5 163.5,720.5 161.5,718.5 159.5,716.5 156.5,714.5 154.5,711.5 152.5,709.5 150.5,706.5 148.5,704.5 146.5,701.5 144.5,699.5 142.5,696.5 140.5,694.5 137.5,691.5 135.5,688.5 133.5,685.5 131.5,683.5 129.5,680.5 127.5,677.5 125.5,674.5 122.5,671.5 120.5,668.5 118.5,665.5 116.5,661.5 114.5,658.5 111.5,655.5 109.5,651.5 107.5,648.5 105.5,644.5 103.5,641.5 101.5,637.5 99.5,633.5 96.5,630.5 94.5,626.5 92.5,622.5 90.5,618.5 88.5,613.5 86.5,609.5 84.5,605.5 82.5,600.5 80.5,596.5 78.5,591.5 76.5,586.5 74.5,581.5 72.5,576.5 70.5,571.5 69.5,565.5 67.5,560.5 65.5,554.5 63.5,548.5 62.5,542.5 60.5,535.5 59.5,529.5 58.5,522.5 56.5,515.5 55.5,508.5 54.5,500.5 53.5,493.5 52.5,484.5 51.5,476.5 51.5,467.5 51.5,458.5 50.5,448.5 50.5,438.5 51.5,428.5 51.5,417.5 52.5,405.5 53.5,393.5 54.5,380.5 56.5,367.5 59.5,352.5 62.5,337.5 65.5,320.5 69.5,303.5 74.5,284.5 80.5,263.5 87.5,241.5 96.5,217.5 106.5,190.5 112.5,173.5" stroke="#00008b" stroke-width="1" fill="none" />
<polyline points="249.5,749.5 248.5,747.5 246.5,745.5 244.5,743.5 242.5,741.5 241.5,739.5 239.5,737.5 237.5,735.5 235.5,733.5 233.5,731.5 231.5,729.5 229.5,727.5 227.5,725.5 225.5,723.5 223.5,720.5 221.5,718.5 219.5,716.5 217.5,714.5 215.5,711.5 213.5,709.5 211.5,706.5 209.5,704.5 207.5,701.5 205.5,699.5 202.5,696.5 200.5,694.5 198.5,691.5 196.5,688.5 194.5,685.5 191.5,683.5 189.5,680.5 187.5,677.5 185.5,674.5 182.5,671.5 180.5,668.5 178.5,665.5 175.5,661.5 173.5,658.5 171.5,655.5 168.5,651.5 166.5,648.5 164.5,644.5 161.5,641.5 159.5,637.5 157.5,633.5 154.5,630.5 152.5,626.5 150.5,622.5 147.5,618.5 145.5,613.5 143.5,609.5 140.5,605.5 138.5,600.5 136.5,596.5 133.5,591.5 131.5,586.5 129.5,581.5 127.5,576.5 125.5,571.5 123.5,565.5 121.5,560.5 118.5,554.5 117.5,548.5 115.5,542.5 113.5,535.5 111.5,529.5 109.5,522.5 107.5,515.5 106.5,508.5 104.5,500.5 103.5,493.5 102.5,484.5 101.5,476.5 100.5,467.5 99.5,458.5 98.5,448.5 98.5,438.5 98.5,428.5 98.5,417.5 98.5,405.5 98.5,393.5 99.5,380.5 101.5,367.5 103.5,352.5 105.5,337.5 108.5,320.5 111.5,303.5 116.5,284.5 121.5,263.5 127.5,241.5 135.5,217.5 144.5,190.5 155.5,161.5 169.5,128.5 176.5,110.5" stroke="#00008b" stroke-width="1" fill="none" />
<polyline points="308.5,749.5 306.5,747.5 305.5,745.5 304.5,743.5 302.5,741.5 301.5,739.5 299.5,737.5 297.5,735.5 296.5,733.5 294.5,731.5 293.5,729.5 291.5,727.5 289.5,725.5 287.5,723.5 286.5,720.5 284.5,718.5 282.5,716.5 280.5,714.5 278.5,711.5 277.5,709.5 275.5,706.5 273.5,704.5 271.5,701.5 269.5,699.5 267.5,696.5 265.5,694.5 263.5,691.5 260.5,688.5 258.5,685.5 256.5,683.5 254.5,680.5 252.5,677.5 250.5,674.5 247.5,671.5 245.5,668.5 243.5,665.5 240.5,661.5 238.5,658.5 236.5,655.5 233.5,651.5 231.5,648.5 228.5,644.5 226.5,641.5 223.5,637.5 221.5,633.5 218.5,630.5 216.5,626.5 213.5,622.5 211.5,618.5 208.5,613.5 206.5,609.5 203.5,605.5 201.5,600.5 198.5,596.5 196.5,591.5 193.5,586.5 191.5,581.5 188.5,576.5 186.5,571.5 183.5,565.5 181.5,560.5 179.5,554.5 176.5,548.5 174.5,542.5 172.5,535.5 170.5,529.5 167.5,522.5 165.5,515.5 163.5,508.5 161.5,500.5 160.5,493.5 158.5,484.5 156.5,476.5 155.5,467.5 154.5,458.5 152.5,448.5 151.5,438.5 151.5,428.5 150.5,417.5 150.5,405.5 150.5,393.5 150.5,380.5 151.5,367.5 152.5,352.5 154.5,337.5 156.5,320.5 159.5,303.5 162.5,284.5 167.5,263.5 173.5,241.5 179.5,217.5 188.5,190.5 198.5,161.5 210.5,128.5 225.5,91.5 244.5,50.5" stroke="#00008b" stroke-width="1" fill="none" />
<polyline points="366.5,749.5 365.5,747.5 364.5,745.5 363.5,743.5 362.5,741.5 361.5,739.5 359.5,737.5 358.5,735.5 357.5,733.5 356.5,731.5 355.5,729.5 353.5,727.5 352.5,725.5 351.5,723.5 350.5,720.5 348.5,718.5 347.5,716.5 346.5,714.5 344.5,711.5 343.5,709.5 341.5,706.5 340.5,704.5 338.5,701.5 337.5,699.5 335.5,696.5 333.5,694.5 332.5,691.5 330.5,688.5 328.5,685.5 326.5,683.5 325.5,680.5 323.5,677.5 321.5,674.5 319.5,671.5 317.5,668.5 315.5,665.5 313.5,661.5 311.5,658.5 309.5,655.5 307.5,651.5 304.5,648.5 302.5,644.5 300.5,641.5 298.5,637.5 295.5,633.5 293.5,630.5 291.5,626.5 288.5,622.5 286.5,618.5 283.5,613.5 281.5,609.5 278.5,605.5 275.5,600.5 273.5,596.5 270.5,591.5 267.5,586.5 265.5,581.5 262.5,576.5 259.5,571.5 257.5,565.5 254.5,560.5 251.5,554.5 249.5,548.5 246.5,542.5 243.5,535.5 241.5,529.5 238.5,522.5 236.5,515.5 233.5,508.5 231.5,500.5 229.5,493.5 226.5,484.5 224.5,476.5 222.5,467.5 220.5,458.5 219.5,448.5 217.5,438.5 216.5,428.5 214.5,417.5 213.5,405.5 213.5,393.5 212.5,380.5 212.5,367.5 213.5,352.5 214.5,337.5 215.5,320.5 217.5,303.5 220.5,284.5 223.5,263.5 228.5,241.5 234.5,217.5 241.5,190.5 250.5,161.5 261.5,128.5 275.5,91.5 293.5,50.5" stroke="#00008b" stroke-width="1" fill="none" />
<polyline points="424.5,749.5 423.5,747.5 422.5,745.5 422.5,743.5 421.5,741.5 421.5,739.5 420.5,737.5 419.5,735.5 419.5,733.5 418.5,731.5 417.5,729.5 416.5,727.5 416.5,725.5 415.5,723.5 414.5,720.5 413.5,718.5 413.5,716.5 412.5,714.5 411.5,711.5 410.5,709.5 409.5,706.5 408.5,704.5 408.5,701.5 407.5,699.5 406.5,696.5 405.5,694.5 404.5,691.5 403.5,688.5 402.5,685.5 401.5,683.5 400.5,680.5 398.5,677.5 397.5,674.5 396.5,671.5 395.5,668.5 394.5,665.5 392.5,661.5 391.5,658.5 390.5,655.5 388.5,651.5 387.5,648.5 385.5,644.5 384.5,641.5 382.5,637.5 380.5,633.5 379.5,630.5 377.5,626.5 375.5,622.5 373.5,618.5 372.5,613.5 370.5,609.5 368.5,605.5 365.5,600.5 363.5,596.5 361.5,591.5 359.5,586.5 357.5,581.5 354.5,576.5 352.5,571.5 349.5,565.5 347.5,560.5 344.5,554.5 342.5,548.5 339.5,542.5 336.5,535.5 334.5,529.5 331.5,522.5 328.5,515.5 325.5,508.5 323.5,500.5 320.5,493.5 317.5,484.5 315.5,476.5 312.5,467.5 309.5,458.5 307.5,448.5 305.5,438.5 303.5,428.5 301.5,417.5 299.5,405.5 297.5,393.5 296.5,380.5 295.5,367.5 294.5,352.5 294.5,337.5 294.5,320.5 295.5,303.5 297.5,284.5 299.5,263.5 302.5,241.5 307.5,217.5 313.5,190.5 320.5,161.5 330.5,128.5 342.5,91.5 358.5,50.5" stroke="#00008b" stroke-width="1" fill="none" />
<polyline points="482.5,749.5 481.5,747.5 481.5,745.5 481.5,743.5 481.5,741.5 481.5,739.5 480.5,737.5 480.5,735.5 480.5,733.5 480.5,731.5 479.5,729.5 479.5,727.5 479.5,725.5 479.5,723.5 478.5,720.5 478.5,718.5 478.5,716.5 478.5,714.5 477.5,711.5 477.5,709.5 477.5,706.5 477.5,704.5 476.5,701.5 476.5,699.5 476.5,696.5 476.5,694.5 475.5,691.5 475.5,688.5 475.5,685.5 474.5,683.5 474.5,680.5 474.5,677.5 473.5,674.5 473.5,671.5 473.5,668.5 472.5,665.5 472.5,661.5 472.5,658.5 471.5,655.5 471.5,651.5 470.5,648.5 470.5,644.5 470.5,641.5 469.5,637.5 469.5,633.5 468.5,630.5 468.5,626.5 467.5,622.5 466.5,618.5 466.5,613.5 465.5,609.5 465.5,605.5 464.5,600.5 463.5,596.5 462.5,591.5 462.5,586.5 461.5,581.5 460.5,576.5 459.5,571.5 458.5,565.5 457.5,560.5 456.5,554.5 454.5,548.5 453.5,542.5 452.5,535.5 450.5,529.5 449.5,522.5 447.5,515.5 445.5,508.5 444.5,500.5 442.5,493.5 440.5,484.5 438.5,476.5 435.5,467.5 433.5,458.5 431.5,448.5 429.5,438.5 426.5,428.5 424.5,417.5 422.5,405.5 419.5,393.5 417.5,380.5 415.5,367.5 414.5,352.5 412.5,337.5 411.5,320.5 411.5,303.5 410.5,284.5 411.5,263.5 413.5,241.5 415.5,217.5 419.5,190.5 424.5,161.5 431.5,128.5 441.5,91.5 454.5,50.5" stroke="#00008b" stroke-width="1" fill="none" />
<polyline points="540.5,749.5 540.5,747.5 540.5,745.5 540.5,743.5 540.5,741.5 541.5,739.5 541.5,737.5 541.5,735.5 541.5,733.5 541.5,731.5 541.5,729.5 541.5,727.5 541.5,725.5 541.5,723.5 542.5,720.5 542.5,718.5 542.5,716.5 542.5,714.5 542.5,711.5 542.5,709.5 543.5,706.5 543.5,704.5 543.5,701.5 543.5,699.5 543.5,696.5 544.5,694.5 544.5,691.5 544.5,688.5 544.5,685.5 545.5,683.5 545.5,680.5 545.5,677.5 545.5,674.5 546.5,671.5 546.5,668.5 546.5,665.5 547.5,661.5 547.5,658.5 548.5,655.5 548.5,651.5 548.5,648.5 549.5,644.5 549.5,641.5 550.5,637.5 550.5,633.5 551.5,630.5 551.5,626.5 552.5,622.5 552.5,618.5 553.5,613.5 553.5,609.5 554.5,605.5 555.5,600.5 555.5,596.5 556.5,591.5 557.5,586.5 557.5,581.5 558.5,576.5 559.5,571.5 560.5,565.5 560.5,560.5 561.5,554.5 562.5,548.5 563.5,542.5 564.5,535.5 565.5,529.5 566.5,522.5 567.5,515.5 568.5,508.5 569.5,500.5 570.5,493.5 571.5,484.5 572.5,476.5 573.5,467.5 574.5,458.5 575.5,448.5 576.5,438.5 577.5,428.5 578.5,417.5 579.5,405.5 580.5,393.5 581.5,380.5 581.5,367.5 582.5,352.5 583.5,337.5 583.5,320.5 584.5,303.5 584.5,284.5 585.5,263.5 586.5,241.5 587.5,217.5 589.5,190.5 591.5,161.5 596.5,128.5 602.5,91.5 611.5,50.5" stroke="#00008b" stroke-width="1" fill="none" />
<polyline points="599.5,749.5 599.5,747.5 600.5,745.5 600.5,743.5 600.5,741.5 601.5,739.5 601.5,737.5 601.5,735.5 601.5,733.5 602.5,731.5 602.5,729.5 602.5,727.5 603.5,725.5 603.5,723.5 604.5,720.5 604.5,718.5 604.5,716.5 605.5,714.5 605.5,711.5 606.5,709.5 606.5,706.5 607.5,704.5 607.5,701.5 608.5,699.5 608.5,696.5 609.5,694.5 609.5,691.5 610.5,688.5 610.5,685.5 611.5,683.5 612.5,680.5 612.5,677.5 613.5,674.5 614.5,671.5 614.5,668.5 615.5,665.5 616.5,661.5 617.5,658.5 617.5,655.5 618.5,651.5 619.5,648.5 620.5,644.5 621.5,641.5 622.5,637.5 623.5,633.5 624.5,630.5 625.5,626.5 626.5,622.5 628.5,618.5 629.5,613.5 630.5,609.5 631.5,605.5 633.5,600.5 634.5,596.5 636.5,591.5 637.5,586.5 639.5,581.5 641.5,576.5 642.5,571.5 644.5,565.5 646.5,560.5 648.5,554.5 650.5,548.5 652.5,542.5 654.5,535.5 657.5,529.5 659.5,522.5 662.5,515.5 664.5,508.5 667.5,500.5 670.5,493.5 673.5,484.5 677.5,476.5 680.5,467.5 684.5,458.5 688.5,448.5 692.5,438.5 696.5,428.5 700.5,417.5 705.5,405.5 710.5,393.5 716.5,380.5 722.5,367.5 728.5,352.5 735.5,337.5 742.5,320.5 749.5,303.5 758.5,284.5 767.5,263.5 776.5,241.5 787.5,217.5 798.5,190.5 810.5,161.5 824.5,128.5 838.5,91.5 854.5,50.5" stroke="#00008b" stroke-width="1" fill="none" />
<polyline points="659.5,749.5 659.5,747.5 659.5,745.5 660.5,743.5 660.5,741.5 661.5,739.5 661.5,737.5 661.5,735.5 662.5,733.5 662.5,731.5 663.5,729.5 663.5,727.5 664.5,725.5 664.5,723.5 665.5,720.5 665.5,718.5 666.5,716.5 666.5,714.5 667.5,711.5 667.5,709.5 668.5,706.5 669.5,704.5 669.5,701.5 670.5,699.5 671.5,696.5 671.5,694.5 672.5,691.5 673.5,688.5 674.5,685.5 674.5,683.5 675.5,680.5 676.5,677.5 677.5,674.5 678.5,671.5 679.5,668.5 680.5,665.5 681.5,661.5 682.5,658.5 683.5,655.5 684.5,651.5 685.5,648.5 686.5,644.5 687.5,641.5 689.5,637.5 690.5,633.5 691.5,630.5 693.5,626.5 694.5,622.5 696.5,618.5 697.5,613.5 699.5,609.5 700.5,605.5 702.5,600.5 704.5,596.5 706.5,591.5 708.5,586.5 710.5,581.5 712.5,576.5 714.5,571.5 716.5,565.5 719.5,560.5 721.5,554.5 724.5,548.5 726.5,542.5 729.5,535.5 732.5,529.5 735.5,522.5 738.5,515.5 742.5,508.5 745.5,500.5 749.5,493.5 753.5,484.5 757.5,476.5 762.5,467.5 766.5,458.5 771.5,448.5 776.5,438.5 782.5,428.5 788.5,417.5 794.5,405.5 801.5,393.5 808.5,380.5 815.5,367.5 824.5,352.5 833.5,337.5 842.5,320.5 853.5,303.5 864.5,284.5 876.5,263.5 890.5,241.5 905.5,217.5 922.5,190.5 941.5,161.5 963.5,128.5 987.5,91.5 1015.5,50.5" stroke="#00008b" stroke-width="1" fill="none" />
<line x1="-787.5" y1="749.5" x2="-88.5" y2="50.5" stroke="#fff" stroke-width="1"/>
<line x1="-727.5" y1="749.5" x2="-28.5" y2="50.5" stroke="#fff" stroke-width="1"/>
<line x1="-667.5" y1="749.5" x2="31.5" y2="50.5" stroke="#fff" stroke-width="1"/>
<line x1="-607.5" y1="749.5" x2="91.5" y2="50.5" stroke="#fff" stroke-width="1"/>
<line x1="-547.5" y1="749.5" x2="151.5" y2="50.5" stroke="#fff" stroke-width="1"/>
<line x1="-487.5" y1="749.5" x2="211.5" y2="50.5" stroke="#fff" stroke-width="1"/>
<line x1="-427.5" y1="749.5" x2="271.5" y2="50.5" stroke="#fff" stroke-width="1"/>
<line x1="-367.5" y1="749.5" x2="331.5" y2="50.5" stroke="#fff" stroke-width="1"/>
<line x1="-307.5" y1="749.5" x2="391.5" y2="50.5" stroke="#fff" stroke-width="1"/>
<line x1="-247.5" y1="749.5" x2="451.5" y2="50.5" stroke="#fff" stroke-width="1"/>
<line x1="-187.5" y1="749.5" x2="511.5" y2="50.5" stroke="#fff" stroke-width="1"/>
<line x1="-127.5" y1="749.5" x2="571.5" y2="50.5" stroke="#fff" stroke-width="1"/>
<line x1="-67.5" y1="749.5" x2="631.5" y2="50.5" stroke="#fff" stroke-width="1"/>
<line x1="-7.5" y1="749.5" x2="691.5" y2="50.5" stroke="#fff" stroke-width="1"/>
<line x1="52.5" y1="749.5" x2="751.5" y2="50.5" stroke="#fff" stroke-width="1"/>
<line x1="112.5" y1="749.5" x2="811.5" y2="50.5" stroke="#fff" stroke-width="1"/>
<line x1="172.5" y1="749.5" x2="871.5" y2="50.5" stroke="#fff" stroke-width="1"/>
<line x1="232.5" y1="749.5" x2="931.5" y2="50.5" stroke="#fff" stroke-width="1"/>
<line x1="292.5" y1="749.5" x2="991.5" y2="50.5" stroke="#fff" stroke-width="1"/>
<line x1="352.5" y1="749.5" x2="1051.5" y2="50.5" stroke="#fff" stroke-width="1"/>
<line x1="412.5" y1="749.5" x2="1111.5" y2="50.5" stroke="#fff" stroke-width="1"/>
<line x1="472.5" y1="749.5" x2="1171.5" y2="50.5" stroke="#fff" stroke-width="1"/>
<line x1="532.5" y1="749.5" x2="1231.5" y2="50.5" stroke="#fff" stroke-width="1"/>
<line x1="592.5" y1="749.5" x2="1291.5" y2="50.5" stroke="#fff" stroke-width="1"/>
<line x1="652.5" y1="749.5" x2="1351.5" y2="50.5" stroke="#fff" stroke-width="1"/>
<line x1="712.5" y1="749.5" x2="1411.5" y2="50.5" stroke="#fff" stroke-width="1"/>
</g>
<line x1="56.5" y1="50.5" x2="666.5" y2="50.5" stroke="#fff" stroke-width="1"/>
<line x1="56.5" y1="321.5" x2="666.5" y2="321.5" stroke="#fff" stroke-width="1"/>
<line x1="56.5" y1="449.5" x2="666.5" y2="449.5" stroke="#fff" stroke-width="1"/>
<line x1="56.5" y1="529.5" x2="666.5" y2="529.5" stroke="#fff" stroke-width="1"/>
<line x1="56.5" y1="586.5" x2="666.5" y2="586.5" stroke="#fff" stroke-width="1"/>
<line x1="56.5" y1="630.5" x2="666.5" y2="630.5" stroke="#fff" stroke-width="1"/>
<line x1="56.5" y1="665.5" x2="666.5" y2="665.5" stroke="#fff" stroke-width="1"/>
<line x1="56.5" y1="694.5" x2="666.5" y2="694.5" stroke="#fff" stroke-width="1"/>
<line x1="56.5" y1="719.5" x2="666.5" y2="719.5" stroke="#fff" stroke-width="1"/>
<line x1="56.5" y1="740.5" x2="661.5" y2="740.5" stroke="#fff" stroke-width="1"/>
<rect x="61.5" y="50.5" width="600" height="699" fill="none" stroke="#fff"/>
<line x1="61.5" y1="749.5" x2="61.5" y2="754.5" stroke="#fff" stroke-width="1"/>
<line x1="61.5" y1="788.5" x2="61.5" y2="792.5" stroke="#fff" stroke-width="1"/>
<line x1="61.5" y1="826.5" x2="61.5" y2="830.5" stroke="#fff" stroke-width="1"/>
<line x1="121.5" y1="749.5" x2="121.5" y2="754.5" stroke="#fff" stroke-width="1"/>
<line x1="121.5" y1="788.5" x2="121.5" y2="792.5" stroke="#fff" stroke-width="1"/>
<line x1="121.5" y1="826.5" x2="121.5" y2="830.5" stroke="#fff" stroke-width="1"/>
<line x1="181.5" y1="749.5" x2="181.5" y2="754.5" stroke="#fff" stroke-width="1"/>
<line x1="181.5" y1="788.5" x2="181.5" y2="792.5" stroke="#fff" stroke-width="1"/>
<line x1="181.5" y1="826.5" x2="181.5" y2="830.5" stroke="#fff" stroke-width="1"/>
<line x1="241.5" y1="749.5" x2="241.5" y2="754.5" stroke="#fff" stroke-width="1"/>
<line x1="241.5" y1="788.5" x2="241.5" y2="792.5" stroke="#fff" stroke-width="1"/>
<line x1="241.5" y1="826.5" x2="241.5" y2="830.5" stroke="#fff" stroke-width="1"/>
<line x1="301.5" y1="749.5" x2="301.5" y2="754.5" stroke="#fff" stroke-width="1"/>
<line x1="301.5" y1="788.5" x2="301.5" y2="792.5" stroke="#fff" stroke-width="1"/>
<line x1="301.5" y1="826.5" x2="301.5" y2="830.5" stroke="#fff" stroke-width="1"/>
<line x1="361.5" y1="749.5" x2="361.5" y2="754.5" stroke="#fff" stroke-width="1"/>
<line x1="361.5" y1="788.5" x2="361.5" y2="792.5" stroke="#fff" stroke-width="1"/>
<line x1="361.5" y1="826.5" x2="361.5" y2="830.5" stroke="#fff" stroke-width="1"/>
<line x1="421.5" y1="749.5" x2="421.5" y2="754.5" stroke="#fff" stroke-width="1"/>
<line x1="421.5" y1="788.5" x2="421.5" y2="792.5" stroke="#fff" stroke-width="1"/>
<line x1="421.5" y1="826.5" x2="421.5" y2="830.5" stroke="#fff" stroke-width="1"/>
<line x1="481.5" y1="749.5" x2="481.5" y2="754.5" stroke="#fff" stroke-width="1"/>
<line x1="481.5" y1="788.5" x2="481.5" y2="792.5" stroke="#fff" stroke-width="1"/>
<line x1="481.5" y1="826.5" x2="481.5" y2="830.5" stroke="#fff" stroke-width="1"/>
<line x1="541.5" y1="749.5" x2="541.5" y2="754.5" stroke="#fff" stroke-width="1"/>
<line x1="541.5" y1="788.5" x2="541.5" y2="792.5" stroke="#fff" stroke-width="1"/>
<line x1="541.5" y1="826.5" x2="541.5" y2="830.5" stroke="#fff" stroke-width="1"/>
<line x1="601.5" y1="749.5" x2="601.5" y2="754.5" stroke="#fff" stroke-width="1"/>
<line x1="601.5" y1="788.5" x2="601.5" y2="792.5" stroke="#fff" stroke-width="1"/>
<line x1="601.5" y1="826.5" x2="601.5" y2="830.5" stroke="#fff" stroke-width="1"/>
<line x1="661.5" y1="749.5" x2="661.5" y2="754.5" stroke="#fff" stroke-width="1"/>
<line x1="661.5" y1="788.5" x2="661.5" y2="792.5" stroke="#fff" stroke-width="1"/>
<line x1="661.5" y1="826.5" x2="661.5" y2="830.5" stroke="#fff" stroke-width="1"/>
<line x1="61.5" y1="863.5" x2="61.5" y2="867.5" stroke="#fff" stroke-width="1"/>
<line x1="136.5" y1="863.5" x2="136.5" y2="867.5" stroke="#fff" stroke-width="1"/>
<line x1="211.5" y1="863.5" x2="211.5" y2="867.5" stroke="#fff" stroke-width="1"/>
<line x1="286.5" y1="863.5" x2="286.5" y2="867.5" stroke="#fff" stroke-width="1"/>
<line x1="361.5" y1="863.5" x2="361.5" y2="867.5" stroke="#fff" stroke-width="1"/>
<line x1="436.5" y1="863.5" x2="436.5" y2="867.5" stroke="#fff" stroke-width="1"/>
<line x1="511.5" y1="863.5" x2="511.5" y2="867.5" stroke="#fff" stroke-width="1"/>
<line x1="586.5" y1="863.5" x2="586.5" y2="867.5" stroke="#fff" stroke-width="1"/>
<line x1="661.5" y1="863.5" x2="661.5" y2="867.5" stroke="#fff" stroke-width="1"/>
<g clip-path="url(#cp)">
<line x1="61" y1="719.5" x2="626" y2="719.5" stroke="#ff00ff"/>
<path d="M152 650.5h5M154.5 648v5" stroke="#fff" stroke-width="1" fill="none"/>
<path d="M149 657.5h5M151.5 655v5" stroke="#fff" stroke-width="1" fill="none"/>
<path d="M73 669.5h5M75.5 667v5" stroke="#fff" stroke-width="1" fill="none"/>
<path d="M61 678.5h5M63.5 676v5" stroke="#fff" stroke-width="1" fill="none"/>
<path d="M60 684.5h5M62.5 682v5" stroke="#fff" stroke-width="1" fill="none"/>
<path d="M65 687.5h5M67.5 685v5" stroke="#fff" stroke-width="1" fill="none"/>
<path d="M71 690.5h5M73.5 688v5" stroke="#fff" stroke-width="1" fill="none"/>
<path d="M86 693.5h5M88.5 691v5" stroke="#fff" stroke-width="1" fill="none"/>
<path d="M88 696.5h5M90.5 694v5" stroke="#fff" stroke-width="1" fill="none"/>
<path d="M277 702.5h5M279.5 700v5" stroke="#fff" stroke-width="1" fill="none"/>
<path d="M241 705.5h5M243.5 703v5" stroke="#fff" stroke-width="1" fill="none"/>
<path d="M274 707.5h5M276.5 705v5" stroke="#fff" stroke-width="1" fill="none"/>
<path d="M261 709.5h5M263.5 707v5" stroke="#fff" stroke-width="1" fill="none"/>
<path d="M341 712.5h5M343.5 710v5" stroke="#fff" stroke-width="1" fill="none"/>
<path d="M186 713.5h5M188.5 711v5" stroke="#fff" stroke-width="1" fill="none"/>
<path d="M132 724.5h5M134.5 722v5" stroke="#fff" stroke-width="1" fill="none"/>
<path d="M136 724.5h5M138.5 722v5" stroke="#fff" stroke-width="1" fill="none"/>
<path d="M87 733.5h5M89.5 731v5" stroke="#fff" stroke-width="1" fill="none"/>
<polyline points="61.0,641.5 100.0,644.0 125.2,648.2 154.4,650.8 151.3,657.4 117.5,660.5 86.7,663.6 75.5,669.2 63.2,678.9 62.7,684.1 67.3,687.7 73.9,690.7 88.8,693.8 90.8,696.2 117.5,697.9 138.0,699.4 196.0,700.7 279.2,702.3 243.0,705.8 276.1,707.2 263.8,709.2 343.7,712.3 188.0,713.5 146.2,720.5 134.9,724.0 138.0,724.0 89.8,733.3" stroke="#e07000" stroke-width="1" fill="none"/>
<path d="M62 657.5h5M64.5 655v5" stroke="#fff" stroke-width="1" fill="none"/>
<path d="M81 664.5h5M83.5 662v5" stroke="#fff" stroke-width="1" fill="none"/>
<path d="M93 667.5h5M95.5 665v5" stroke="#fff" stroke-width="1" fill="none"/>
<path d="M171 679.5h5M173.5 677v5" stroke="#fff" stroke-width="1" fill="none"/>
<path d="M180 684.5h5M182.5 682v5" stroke="#fff" stroke-width="1" fill="none"/>
<path d="M181 688.5h5M183.5 686v5" stroke="#fff" stroke-width="1" fill="none"/>
<path d="M109 694.5h5M111.5 692v5" stroke="#fff" stroke-width="1" fill="none"/>
<path d="M74 699.5h5M76.5 697v5" stroke="#fff" stroke-width="1" fill="none"/>
<path d="M60 705.5h5M62.5 703v5" stroke="#fff" stroke-width="1" fill="none"/>
<path d="M61 711.5h5M63.5 709v5" stroke="#fff" stroke-width="1" fill="none"/>
<path d="M100 714.5h5M102.5 712v5" stroke="#fff" stroke-width="1" fill="none"/>
<path d="M320 723.5h5M322.5 721v5" stroke="#fff" stroke-width="1" fill="none"/>
<path d="M327 724.5h5M329.5 722v5" stroke="#fff" stroke-width="1" fill="none"/>
<path d="M341 725.5h5M343.5 723v5" stroke="#fff" stroke-width="1" fill="none"/>
<path d="M471 733.5h5M473.5 731v5" stroke="#fff" stroke-width="1" fill="none"/>
<polyline points="62.7,645.0 63.0,651.3 64.2,657.4 71.4,660.5 83.2,664.1 95.5,667.5 152.3,676.9 173.9,679.5 182.1,684.1 183.1,688.0 168.7,690.2 148.8,691.2 121.6,692.8 111.3,694.3 90.8,696.9 76.5,699.4 63.2,702.0 62.7,705.6 63.0,711.7 102.6,714.3 158.5,715.8 188.2,716.4 219.6,717.3 267.0,720.6 322.2,723.0 329.1,724.2 343.7,725.3 380.0,727.3 473.8,733.0" stroke="#ffff00" stroke-width="1" fill="none"/>
<path d="M209 733.5h5M211.5 731v5" stroke="#fff" stroke-width="1" fill="none"/>
<path d="M236 724.5h5M238.5 722v5" stroke="#fff" stroke-width="1" fill="none"/>
<path d="M241 723.5h5M243.5 721v5" stroke="#fff" stroke-width="1" fill="none"/>
<path d="M324 716.5h5M326.5 714v5" stroke="#fff" stroke-width="1" fill="none"/>
<path d="M345 715.5h5M347.5 713v5" stroke="#fff" stroke-width="1" fill="none"/>
<path d="M364 714.5h5M366.5 712v5" stroke="#fff" stroke-width="1" fill="none"/>
<path d="M331 712.5h5M333.5 710v5" stroke="#fff" stroke-width="1" fill="none"/>
<path d="M341 712.5h5M343.5 710v5" stroke="#fff" stroke-width="1" fill="none"/>
<path d="M363 705.5h5M365.5 703v5" stroke="#fff" stroke-width="1" fill="none"/>
<path d="M356 702.5h5M358.5 700v5" stroke="#fff" stroke-width="1" fill="none"/>
<path d="M346 699.5h5M348.5 697v5" stroke="#fff" stroke-width="1" fill="none"/>
<path d="M364 696.5h5M366.5 694v5" stroke="#fff" stroke-width="1" fill="none"/>
<path d="M347 694.5h5M349.5 692v5" stroke="#fff" stroke-width="1" fill="none"/>
<path d="M297 691.5h5M299.5 689v5" stroke="#fff" stroke-width="1" fill="none"/>
<path d="M309 691.5h5M311.5 689v5" stroke="#fff" stroke-width="1" fill="none"/>
<path d="M314 688.5h5M316.5 686v5" stroke="#fff" stroke-width="1" fill="none"/>
<path d="M321 679.5h5M323.5 677v5" stroke="#fff" stroke-width="1" fill="none"/>
<path d="M369 668.5h5M371.5 666v5" stroke="#fff" stroke-width="1" fill="none"/>
<path d="M349 665.5h5M351.5 663v5" stroke="#fff" stroke-width="1" fill="none"/>
<path d="M354 664.5h5M356.5 662v5" stroke="#fff" stroke-width="1" fill="none"/>
<polyline points="211.5,733.0 238.4,724.9 243.0,723.8 326.0,716.9 347.6,715.3 366.8,714.6 333.0,712.3 343.7,712.3 351.8,710.0 365.2,705.8 358.3,702.3 348.3,699.2 366.8,696.9 349.1,694.1 299.1,691.5 311.4,691.5 316.0,688.4 323.0,679.7 371.4,668.4 351.4,665.4 356.8,664.3 399.0,657.8" stroke="#c8c800" stroke-width="1" fill="none"/>
<path d="M187 54.5h5M189.5 52v5" stroke="#fff" stroke-width="1" fill="none"/>
<path d="M211 74.5h5M213.5 72v5" stroke="#fff" stroke-width="1" fill="none"/>
<path d="M265 105.5h5M267.5 103v5" stroke="#fff" stroke-width="1" fill="none"/>
<path d="M215 134.5h5M217.5 132v5" stroke="#fff" stroke-width="1" fill="none"/>
<path d="M293 167.5h5M295.5 165v5" stroke="#fff" stroke-width="1" fill="none"/>
<path d="M272 191.5h5M274.5 189v5" stroke="#fff" stroke-width="1" fill="none"/>
<path d="M310 218.5h5M312.5 216v5" stroke="#fff" stroke-width="1" fill="none"/>
<path d="M302 228.5h5M304.5 226v5" stroke="#fff" stroke-width="1" fill="none"/>
<path d="M361 238.5h5M363.5 236v5" stroke="#fff" stroke-width="1" fill="none"/>
<path d="M382 260.5h5M384.5 258v5" stroke="#fff" stroke-width="1" fill="none"/>
<path d="M364 277.5h5M366.5 275v5" stroke="#fff" stroke-width="1" fill="none"/>
<path d="M341 304.5h5M343.5 302v5" stroke="#fff" stroke-width="1" fill="none"/>
<path d="M332 321.5h5M334.5 319v5" stroke="#fff" stroke-width="1" fill="none"/>
<path d="M323 322.5h5M325.5 320v5" stroke="#fff" stroke-width="1" fill="none"/>
<path d="M316 341.5h5M318.5 339v5" stroke="#fff" stroke-width="1" fill="none"/>
<path d="M319 354.5h5M321.5 352v5" stroke="#fff" stroke-width="1" fill="none"/>
<path d="M303 383.5h5M305.5 381v5" stroke="#fff" stroke-width="1" fill="none"/>
<path d="M291 394.5h5M293.5 392v5" stroke="#fff" stroke-width="1" fill="none"/>
<path d="M236 449.5h5M238.5 447v5" stroke="#fff" stroke-width="1" fill="none"/>
<path d="M225 453.5h5M227.5 451v5" stroke="#fff" stroke-width="1" fill="none"/>
<path d="M211 459.5h5M213.5 457v5" stroke="#fff" stroke-width="1" fill="none"/>
<path d="M188 483.5h5M190.5 481v5" stroke="#fff" stroke-width="1" fill="none"/>
<path d="M195 487.5h5M197.5 485v5" stroke="#fff" stroke-width="1" fill="none"/>
<path d="M145 498.5h5M147.5 496v5" stroke="#fff" stroke-width="1" fill="none"/>
<path d="M100 523.5h5M102.5 521v5" stroke="#fff" stroke-width="1" fill="none"/>
<path d="M92 526.5h5M94.5 524v5" stroke="#fff" stroke-width="1" fill="none"/>
<path d="M92 529.5h5M94.5 527v5" stroke="#fff" stroke-width="1" fill="none"/>
<path d="M94 532.5h5M96.5 530v5" stroke="#fff" stroke-width="1" fill="none"/>
<path d="M97 535.5h5M99.5 533v5" stroke="#fff" stroke-width="1" fill="none"/>
<path d="M101 552.5h5M103.5 550v5" stroke="#fff" stroke-width="1" fill="none"/>
<path d="M108 556.5h5M110.5 554v5" stroke="#fff" stroke-width="1" fill="none"/>
<path d="M113 563.5h5M115.5 561v5" stroke="#fff" stroke-width="1" fill="none"/>
<path d="M123 568.5h5M125.5 566v5" stroke="#fff" stroke-width="1" fill="none"/>
<path d="M141 574.5h5M143.5 572v5" stroke="#fff" stroke-width="1" fill="none"/>
<path d="M147 576.5h5M149.5 574v5" stroke="#fff" stroke-width="1" fill="none"/>
<path d="M165 577.5h5M167.5 575v5" stroke="#fff" stroke-width="1" fill="none"/>
<path d="M151 586.5h5M153.5 584v5" stroke="#fff" stroke-width="1" fill="none"/>
<path d="M152 590.5h5M154.5 588v5" stroke="#fff" stroke-width="1" fill="none"/>
<path d="M103 613.5h5M105.5 611v5" stroke="#fff" stroke-width="1" fill="none"/>
<path d="M127 624.5h5M129.5 622v5" stroke="#fff" stroke-width="1" fill="none"/>
<path d="M133 625.5h5M135.5 623v5" stroke="#fff" stroke-width="1" fill="none"/>
<path d="M111 631.5h5M113.5 629v5" stroke="#fff" stroke-width="1" fill="none"/>
<path d="M108 641.5h5M110.5 639v5" stroke="#fff" stroke-width="1" fill="none"/>
<path d="M131 650.5h5M133.5 648v5" stroke="#fff" stroke-width="1" fill="none"/>
<path d="M144 656.5h5M146.5 654v5" stroke="#fff" stroke-width="1" fill="none"/>
<path d="M152 664.5h5M154.5 662v5" stroke="#fff" stroke-width="1" fill="none"/>
<path d="M141 669.5h5M143.5 667v5" stroke="#fff" stroke-width="1" fill="none"/>
<path d="M151 679.5h5M153.5 677v5" stroke="#fff" stroke-width="1" fill="none"/>
<path d="M157 684.5h5M159.5 682v5" stroke="#fff" stroke-width="1" fill="none"/>
<path d="M124 688.5h5M126.5 686v5" stroke="#fff" stroke-width="1" fill="none"/>
<path d="M154 692.5h5M156.5 690v5" stroke="#fff" stroke-width="1" fill="none"/>
<path d="M156 696.5h5M158.5 694v5" stroke="#fff" stroke-width="1" fill="none"/>
<path d="M164 699.5h5M166.5 697v5" stroke="#fff" stroke-width="1" fill="none"/>
<path d="M126 702.5h5M128.5 700v5" stroke="#fff" stroke-width="1" fill="none"/>
<path d="M166 704.5h5M168.5 702v5" stroke="#fff" stroke-width="1" fill="none"/>
<path d="M128 707.5h5M130.5 705v5" stroke="#fff" stroke-width="1" fill="none"/>
<path d="M147 712.5h5M149.5 710v5" stroke="#fff" stroke-width="1" fill="none"/>
<path d="M176 715.5h5M178.5 713v5" stroke="#fff" stroke-width="1" fill="none"/>
<path d="M152 718.5h5M154.5 716v5" stroke="#fff" stroke-width="1" fill="none"/>
<path d="M171 722.5h5M173.5 720v5" stroke="#fff" stroke-width="1" fill="none"/>
<path d="M181 725.5h5M183.5 723v5" stroke="#fff" stroke-width="1" fill="none"/>
<path d="M171 733.5h5M173.5 731v5" stroke="#fff" stroke-width="1" fill="none"/>
<polyline points="188.5,49.0 189.6,54.3 213.4,74.3 267.3,105.7 217.4,134.5 295.1,167.8 274.3,191.6 312.4,218.7 304.4,228.5 363.3,238.7 384.3,260.6 366.3,277.2 343.8,304.3 334.5,321.9 325.2,322.9 318.7,341.4 321.5,354.7 305.7,383.5 293.1,394.1 238.7,449.7 227.5,453.7 213.4,459.5 190.4,483.5 197.1,487.0 147.3,498.3 102.4,523.8 94.5,526.3 94.9,529.4 96.5,532.9 99.0,535.7 103.2,552.9 110.7,556.5 115.7,563.2 125.6,568.5 143.4,574.3 149.4,576.5 167.2,577.8 153.1,586.5 154.4,590.9 105.0,613.4 129.8,624.4 135.6,625.5 113.2,631.0 110.0,641.3 133.1,650.8 146.4,656.9 154.8,664.1 143.1,669.1 153.1,679.1 159.7,684.1 126.5,688.2 156.4,692.4 158.1,696.5 166.4,699.8 128.1,702.3 168.1,704.8 130.6,707.3 149.8,712.3 178.0,715.6 154.8,718.1 173.1,722.3 183.9,725.6 173.1,733.1" stroke="#ff0080" stroke-width="1" fill="none"/>
<path d="M275 54.5h5M277.5 52v5" stroke="#fff" stroke-width="1" fill="none"/>
<path d="M305 74.5h5M307.5 72v5" stroke="#fff" stroke-width="1" fill="none"/>
<path d="M323 105.5h5M325.5 103v5" stroke="#fff" stroke-width="1" fill="none"/>
<path d="M293 134.5h5M295.5 132v5" stroke="#fff" stroke-width="1" fill="none"/>
<path d="M353 167.5h5M355.5 165v5" stroke="#fff" stroke-width="1" fill="none"/>
<path d="M353 191.5h5M355.5 189v5" stroke="#fff" stroke-width="1" fill="none"/>
<path d="M399 218.5h5M401.5 216v5" stroke="#fff" stroke-width="1" fill="none"/>
<path d="M395 228.5h5M397.5 226v5" stroke="#fff" stroke-width="1" fill="none"/>
<path d="M449 238.5h5M451.5 236v5" stroke="#fff" stroke-width="1" fill="none"/>
<path d="M467 260.5h5M469.5 258v5" stroke="#fff" stroke-width="1" fill="none"/>
<path d="M443 277.5h5M445.5 275v5" stroke="#fff" stroke-width="1" fill="none"/>
<path d="M419 304.5h5M421.5 302v5" stroke="#fff" stroke-width="1" fill="none"/>
<path d="M407 322.5h5M409.5 320v5" stroke="#fff" stroke-width="1" fill="none"/>
<path d="M407 341.5h5M409.5 339v5" stroke="#fff" stroke-width="1" fill="none"/>
<path d="M411 354.5h5M413.5 352v5" stroke="#fff" stroke-width="1" fill="none"/>
<path d="M395 383.5h5M397.5 381v5" stroke="#fff" stroke-width="1" fill="none"/>
<path d="M383 394.5h5M385.5 392v5" stroke="#fff" stroke-width="1" fill="none"/>
<path d="M335 449.5h5M337.5 447v5" stroke="#fff" stroke-width="1" fill="none"/>
<path d="M323 453.5h5M325.5 451v5" stroke="#fff" stroke-width="1" fill="none"/>
<path d="M311 459.5h5M313.5 457v5" stroke="#fff" stroke-width="1" fill="none"/>
<path d="M293 483.5h5M295.5 481v5" stroke="#fff" stroke-width="1" fill="none"/>
<path d="M299 487.5h5M301.5 485v5" stroke="#fff" stroke-width="1" fill="none"/>
<path d="M227 498.5h5M229.5 496v5" stroke="#fff" stroke-width="1" fill="none"/>
<path d="M197 523.5h5M199.5 521v5" stroke="#fff" stroke-width="1" fill="none"/>
<path d="M185 526.5h5M187.5 524v5" stroke="#fff" stroke-width="1" fill="none"/>
<path d="M191 529.5h5M193.5 527v5" stroke="#fff" stroke-width="1" fill="none"/>
<path d="M197 532.5h5M199.5 530v5" stroke="#fff" stroke-width="1" fill="none"/>
<path d="M203 534.5h5M205.5 532v5" stroke="#fff" stroke-width="1" fill="none"/>
<path d="M209 552.5h5M211.5 550v5" stroke="#fff" stroke-width="1" fill="none"/>
<path d="M215 556.5h5M217.5 554v5" stroke="#fff" stroke-width="1" fill="none"/>
<path d="M221 563.5h5M223.5 561v5" stroke="#fff" stroke-width="1" fill="none"/>
<path d="M233 568.5h5M235.5 566v5" stroke="#fff" stroke-width="1" fill="none"/>
<path d="M251 574.5h5M253.5 572v5" stroke="#fff" stroke-width="1" fill="none"/>
<path d="M257 576.5h5M259.5 574v5" stroke="#fff" stroke-width="1" fill="none"/>
<path d="M275 578.5h5M277.5 576v5" stroke="#fff" stroke-width="1" fill="none"/>
<path d="M257 586.5h5M259.5 584v5" stroke="#fff" stroke-width="1" fill="none"/>
<path d="M257 590.5h5M259.5 588v5" stroke="#fff" stroke-width="1" fill="none"/>
<path d="M215 613.5h5M217.5 611v5" stroke="#fff" stroke-width="1" fill="none"/>
<path d="M227 624.5h5M229.5 622v5" stroke="#fff" stroke-width="1" fill="none"/>
<path d="M233 625.5h5M235.5 623v5" stroke="#fff" stroke-width="1" fill="none"/>
<path d="M210 631.5h5M212.5 629v5" stroke="#fff" stroke-width="1" fill="none"/>
<path d="M215 641.5h5M217.5 639v5" stroke="#fff" stroke-width="1" fill="none"/>
<path d="M209 650.5h5M211.5 648v5" stroke="#fff" stroke-width="1" fill="none"/>
<path d="M221 656.5h5M223.5 654v5" stroke="#fff" stroke-width="1" fill="none"/>
<path d="M191 664.5h5M193.5 662v5" stroke="#fff" stroke-width="1" fill="none"/>
<path d="M198 668.5h5M200.5 666v5" stroke="#fff" stroke-width="1" fill="none"/>
<path d="M155 679.5h5M157.5 677v5" stroke="#fff" stroke-width="1" fill="none"/>
<path d="M161 684.5h5M163.5 682v5" stroke="#fff" stroke-width="1" fill="none"/>
<path d="M119 691.5h5M121.5 689v5" stroke="#fff" stroke-width="1" fill="none"/>
<path d="M180 696.5h5M182.5 694v5" stroke="#fff" stroke-width="1" fill="none"/>
<path d="M166 702.5h5M168.5 700v5" stroke="#fff" stroke-width="1" fill="none"/>
<path d="M191 705.5h5M193.5 703v5" stroke="#fff" stroke-width="1" fill="none"/>
<path d="M60 723.5h5M62.5 721v5" stroke="#fff" stroke-width="1" fill="none"/>
<path d="M71 725.5h5M73.5 723v5" stroke="#fff" stroke-width="1" fill="none"/>
<path d="M83 733.5h5M85.5 731v5" stroke="#fff" stroke-width="1" fill="none"/>
<polyline points="277.3,49.0 277.3,54.3 307.7,74.3 325.2,105.7 295.1,134.5 355.3,167.3 355.3,191.6 401.4,218.4 397.6,228.5 451.5,238.7 469.5,260.6 445.2,277.2 421.4,304.3 409.4,322.9 409.4,341.4 413.9,354.7 397.6,383.5 385.1,394.1 337.7,449.7 325.2,453.7 313.7,459.5 295.1,483.5 301.4,487.5 229.3,498.3 199.3,523.8 187.7,526.3 193.0,529.4 199.3,532.4 205.5,534.9 211.3,552.9 217.6,556.5 223.4,563.2 235.4,568.5 253.7,574.3 259.5,576.5 277.5,578.1 259.9,586.5 259.5,590.9 217.6,613.4 229.6,624.4 235.4,625.5 212.1,631.0 217.6,641.3 211.5,650.8 223.8,656.9 193.1,664.6 200.0,668.4 157.5,679.5 163.1,684.3 121.6,691.2 182.1,696.2 168.7,702.0 193.3,705.1 157.0,713.3 180.0,713.8 109.3,720.5 62.2,723.5 73.9,725.1 85.7,733.1" stroke="#00ff00" stroke-width="1" fill="none"/>
<path d="M532 54.5h5M534.5 52v5" stroke="#fff" stroke-width="1" fill="none"/>
<path d="M516 74.5h5M518.5 72v5" stroke="#fff" stroke-width="1" fill="none"/>
<path d="M485 105.5h5M487.5 103v5" stroke="#fff" stroke-width="1" fill="none"/>
<path d="M460 134.5h5M462.5 132v5" stroke="#fff" stroke-width="1" fill="none"/>
<path d="M433 167.5h5M435.5 165v5" stroke="#fff" stroke-width="1" fill="none"/>
<path d="M418 191.5h5M420.5 189v5" stroke="#fff" stroke-width="1" fill="none"/>
<path d="M398 218.5h5M400.5 216v5" stroke="#fff" stroke-width="1" fill="none"/>
<path d="M389 228.5h5M391.5 226v5" stroke="#fff" stroke-width="1" fill="none"/>
<path d="M386 238.5h5M388.5 236v5" stroke="#fff" stroke-width="1" fill="none"/>
<path d="M363 260.5h5M365.5 258v5" stroke="#fff" stroke-width="1" fill="none"/>
<path d="M350 277.5h5M352.5 275v5" stroke="#fff" stroke-width="1" fill="none"/>
<path d="M364 304.5h5M366.5 302v5" stroke="#fff" stroke-width="1" fill="none"/>
<path d="M345 322.5h5M347.5 320v5" stroke="#fff" stroke-width="1" fill="none"/>
<path d="M364 341.5h5M366.5 339v5" stroke="#fff" stroke-width="1" fill="none"/>
<path d="M366 354.5h5M368.5 352v5" stroke="#fff" stroke-width="1" fill="none"/>
<path d="M373 383.5h5M375.5 381v5" stroke="#fff" stroke-width="1" fill="none"/>
<path d="M367 394.5h5M369.5 392v5" stroke="#fff" stroke-width="1" fill="none"/>
<path d="M314 449.5h5M316.5 447v5" stroke="#fff" stroke-width="1" fill="none"/>
<path d="M307 449.5h5M309.5 447v5" stroke="#fff" stroke-width="1" fill="none"/>
<path d="M361 453.5h5M363.5 451v5" stroke="#fff" stroke-width="1" fill="none"/>
<path d="M357 459.5h5M359.5 457v5" stroke="#fff" stroke-width="1" fill="none"/>
<path d="M287 483.5h5M289.5 481v5" stroke="#fff" stroke-width="1" fill="none"/>
<path d="M289 487.5h5M291.5 485v5" stroke="#fff" stroke-width="1" fill="none"/>
<path d="M306 498.5h5M308.5 496v5" stroke="#fff" stroke-width="1" fill="none"/>
<path d="M315 524.5h5M317.5 522v5" stroke="#fff" stroke-width="1" fill="none"/>
<path d="M337 526.5h5M339.5 524v5" stroke="#fff" stroke-width="1" fill="none"/>
<path d="M329 529.5h5M331.5 527v5" stroke="#fff" stroke-width="1" fill="none"/>
<path d="M361 532.5h5M363.5 530v5" stroke="#fff" stroke-width="1" fill="none"/>
<path d="M373 536.5h5M375.5 534v5" stroke="#fff" stroke-width="1" fill="none"/>
<path d="M341 552.5h5M343.5 550v5" stroke="#fff" stroke-width="1" fill="none"/>
<path d="M376 556.5h5M378.5 554v5" stroke="#fff" stroke-width="1" fill="none"/>
<path d="M361 562.5h5M363.5 560v5" stroke="#fff" stroke-width="1" fill="none"/>
<path d="M345 564.5h5M347.5 562v5" stroke="#fff" stroke-width="1" fill="none"/>
<path d="M373 568.5h5M375.5 566v5" stroke="#fff" stroke-width="1" fill="none"/>
<path d="M315 574.5h5M317.5 572v5" stroke="#fff" stroke-width="1" fill="none"/>
<path d="M338 576.5h5M340.5 574v5" stroke="#fff" stroke-width="1" fill="none"/>
<path d="M353 577.5h5M355.5 575v5" stroke="#fff" stroke-width="1" fill="none"/>
<path d="M357 586.5h5M359.5 584v5" stroke="#fff" stroke-width="1" fill="none"/>
<path d="M387 591.5h5M389.5 589v5" stroke="#fff" stroke-width="1" fill="none"/>
<path d="M371 613.5h5M373.5 611v5" stroke="#fff" stroke-width="1" fill="none"/>
<path d="M357 623.5h5M359.5 621v5" stroke="#fff" stroke-width="1" fill="none"/>
<path d="M361 625.5h5M363.5 623v5" stroke="#fff" stroke-width="1" fill="none"/>
<path d="M378 629.5h5M380.5 627v5" stroke="#fff" stroke-width="1" fill="none"/>
<path d="M380 641.5h5M382.5 639v5" stroke="#fff" stroke-width="1" fill="none"/>
<path d="M362 641.5h5M364.5 639v5" stroke="#fff" stroke-width="1" fill="none"/>
<path d="M438 651.5h5M440.5 649v5" stroke="#fff" stroke-width="1" fill="none"/>
<path d="M442 656.5h5M444.5 654v5" stroke="#fff" stroke-width="1" fill="none"/>
<path d="M451 664.5h5M453.5 662v5" stroke="#fff" stroke-width="1" fill="none"/>
<path d="M454 668.5h5M456.5 666v5" stroke="#fff" stroke-width="1" fill="none"/>
<path d="M465 679.5h5M467.5 677v5" stroke="#fff" stroke-width="1" fill="none"/>
<path d="M464 684.5h5M466.5 682v5" stroke="#fff" stroke-width="1" fill="none"/>
<path d="M465 688.5h5M467.5 686v5" stroke="#fff" stroke-width="1" fill="none"/>
<path d="M456 691.5h5M458.5 689v5" stroke="#fff" stroke-width="1" fill="none"/>
<path d="M442 698.5h5M444.5 696v5" stroke="#fff" stroke-width="1" fill="none"/>
<path d="M430 702.5h5M432.5 700v5" stroke="#fff" stroke-width="1" fill="none"/>
<path d="M435 706.5h5M437.5 704v5" stroke="#fff" stroke-width="1" fill="none"/>
<path d="M431 712.5h5M433.5 710v5" stroke="#fff" stroke-width="1" fill="none"/>
<path d="M450 714.5h5M452.5 712v5" stroke="#fff" stroke-width="1" fill="none"/>
<path d="M464 716.5h5M466.5 714v5" stroke="#fff" stroke-width="1" fill="none"/>
<path d="M474 723.5h5M476.5 721v5" stroke="#fff" stroke-width="1" fill="none"/>
<path d="M478 733.5h5M480.5 731v5" stroke="#fff" stroke-width="1" fill="none"/>
<polyline points="539.5,49.0 534.7,54.3 518.4,74.3 487.3,105.7 462.3,134.5 435.9,167.8 420.2,191.6 400.1,218.7 391.3,228.5 388.3,238.7 365.5,260.6 352.0,277.5 366.6,304.3 347.0,322.9 366.6,341.4 368.3,354.7 375.3,383.5 369.6,394.1 316.4,449.7 309.4,449.7 363.3,453.7 359.5,459.7 289.4,483.5 291.9,487.5 308.2,498.3 317.9,524.1 339.8,526.3 331.2,529.9 363.9,532.9 375.9,536.2 343.2,552.7 378.9,556.5 363.4,562.7 347.3,564.3 375.9,568.5 317.0,574.3 340.7,576.5 355.6,577.8 359.0,586.5 389.4,591.4 373.1,613.4 359.0,623.9 363.9,625.5 380.1,629.4 382.7,641.0 364.8,641.3 440.7,651.1 444.6,656.1 453.8,664.6 456.1,668.4 467.3,679.7 466.1,684.6 467.6,688.9 458.4,691.5 444.6,698.7 432.3,702.7 437.6,706.9 433.0,712.3 452.3,714.6 466.9,716.6 476.8,723.8 480.7,733.0" stroke="#00ffff" stroke-width="1" fill="none"/>
<path d="M650 105.5h5M652.5 103v5" stroke="#fff" stroke-width="1" fill="none"/>
<path d="M630 134.5h5M632.5 132v5" stroke="#fff" stroke-width="1" fill="none"/>
<path d="M611 167.5h5M613.5 165v5" stroke="#fff" stroke-width="1" fill="none"/>
<path d="M603 191.5h5M605.5 189v5" stroke="#fff" stroke-width="1" fill="none"/>
<path d="M568 218.5h5M570.5 216v5" stroke="#fff" stroke-width="1" fill="none"/>
<path d="M560 228.5h5M562.5 226v5" stroke="#fff" stroke-width="1" fill="none"/>
<path d="M556 238.5h5M558.5 236v5" stroke="#fff" stroke-width="1" fill="none"/>
<path d="M527 260.5h5M529.5 258v5" stroke="#fff" stroke-width="1" fill="none"/>
<path d="M512 277.5h5M514.5 275v5" stroke="#fff" stroke-width="1" fill="none"/>
<path d="M477 304.5h5M479.5 302v5" stroke="#fff" stroke-width="1" fill="none"/>
<path d="M470 322.5h5M472.5 320v5" stroke="#fff" stroke-width="1" fill="none"/>
<path d="M421 341.5h5M423.5 339v5" stroke="#fff" stroke-width="1" fill="none"/>
<path d="M411 354.5h5M413.5 352v5" stroke="#fff" stroke-width="1" fill="none"/>
<path d="M403 383.5h5M405.5 381v5" stroke="#fff" stroke-width="1" fill="none"/>
<path d="M403 394.5h5M405.5 392v5" stroke="#fff" stroke-width="1" fill="none"/>
<path d="M411 449.5h5M413.5 447v5" stroke="#fff" stroke-width="1" fill="none"/>
<path d="M411 453.5h5M413.5 451v5" stroke="#fff" stroke-width="1" fill="none"/>
<path d="M412 459.5h5M414.5 457v5" stroke="#fff" stroke-width="1" fill="none"/>
<path d="M418 483.5h5M420.5 481v5" stroke="#fff" stroke-width="1" fill="none"/>
<path d="M417 487.5h5M419.5 485v5" stroke="#fff" stroke-width="1" fill="none"/>
<path d="M416 498.5h5M418.5 496v5" stroke="#fff" stroke-width="1" fill="none"/>
<path d="M421 524.5h5M423.5 522v5" stroke="#fff" stroke-width="1" fill="none"/>
<path d="M420 526.5h5M422.5 524v5" stroke="#fff" stroke-width="1" fill="none"/>
<path d="M414 532.5h5M416.5 530v5" stroke="#fff" stroke-width="1" fill="none"/>
<path d="M416 536.5h5M418.5 534v5" stroke="#fff" stroke-width="1" fill="none"/>
<path d="M425 552.5h5M427.5 550v5" stroke="#fff" stroke-width="1" fill="none"/>
<path d="M428 556.5h5M430.5 554v5" stroke="#fff" stroke-width="1" fill="none"/>
<path d="M431 562.5h5M433.5 560v5" stroke="#fff" stroke-width="1" fill="none"/>
<path d="M431 568.5h5M433.5 566v5" stroke="#fff" stroke-width="1" fill="none"/>
<path d="M428 574.5h5M430.5 572v5" stroke="#fff" stroke-width="1" fill="none"/>
<path d="M426 576.5h5M428.5 574v5" stroke="#fff" stroke-width="1" fill="none"/>
<path d="M430 586.5h5M432.5 584v5" stroke="#fff" stroke-width="1" fill="none"/>
<path d="M430 591.5h5M432.5 589v5" stroke="#fff" stroke-width="1" fill="none"/>
<path d="M443 613.5h5M445.5 611v5" stroke="#fff" stroke-width="1" fill="none"/>
<path d="M450 624.5h5M452.5 622v5" stroke="#fff" stroke-width="1" fill="none"/>
<path d="M457 641.5h5M459.5 639v5" stroke="#fff" stroke-width="1" fill="none"/>
<path d="M454 651.5h5M456.5 649v5" stroke="#fff" stroke-width="1" fill="none"/>
<path d="M454 657.5h5M456.5 655v5" stroke="#fff" stroke-width="1" fill="none"/>
<path d="M462 664.5h5M464.5 662v5" stroke="#fff" stroke-width="1" fill="none"/>
<path d="M474 686.5h5M476.5 684v5" stroke="#fff" stroke-width="1" fill="none"/>
<path d="M491 707.5h5M493.5 705v5" stroke="#fff" stroke-width="1" fill="none"/>
<path d="M495 711.5h5M497.5 709v5" stroke="#fff" stroke-width="1" fill="none"/>
<path d="M485 716.5h5M487.5 714v5" stroke="#fff" stroke-width="1" fill="none"/>
<path d="M487 724.5h5M489.5 722v5" stroke="#fff" stroke-width="1" fill="none"/>
<path d="M504 733.5h5M506.5 731v5" stroke="#fff" stroke-width="1" fill="none"/>
<polyline points="672.0,88.0 652.5,105.7 632.4,134.5 613.1,167.3 605.1,191.6 570.0,218.7 562.3,228.5 558.0,238.7 529.2,260.6 514.1,277.2 479.0,304.3 472.8,322.9 423.9,341.4 413.9,354.7 405.6,383.5 405.6,394.1 413.4,449.7 413.9,453.7 414.6,459.7 420.7,483.5 419.6,487.5 418.0,498.3 423.0,524.1 422.2,526.6 416.3,532.4 418.0,536.2 427.6,552.7 430.5,556.5 433.8,562.7 433.8,568.2 430.5,574.3 428.0,576.5 432.1,586.5 432.6,591.4 445.4,613.4 452.9,624.4 459.6,641.0 456.9,651.5 456.9,657.7 464.2,664.6 476.1,686.1 493.8,707.6 497.6,711.5 487.6,716.6 489.9,724.6 506.8,733.0" stroke="#ff0000" stroke-width="1" fill="none"/>
<polyline points="483.0,49.0 481.6,51.3 475.8,67.6 470.3,90.1 464.8,112.7 459.0,140.3 453.2,165.3 450.2,185.4 447.7,205.4 444.7,230.5 443.5,253.0 442.7,265.6 442.3,280.0 443.5,302.6 444.7,322.6 446.5,345.2 448.2,365.2 451.5,387.8 455.2,410.4 460.3,432.9 464.0,450.5 467.3,470.5 470.8,490.6 475.4,510.0 479.5,534.9 482.0,556.5 484.5,581.5 486.5,606.4 488.8,640.0 489.9,655.4 490.7,670.7 491.5,686.1 491.9,701.5 493.8,706.1 498.4,709.9 533.7,733.0" stroke="#ffb0ff" stroke-width="1" fill="none"/>
<polyline points="465.0,49.0 464.0,51.3 457.7,67.6 452.2,90.1 446.5,112.7 440.2,140.3 435.2,165.3 430.9,185.4 427.7,205.4 424.7,230.5 422.7,253.0 421.9,276.8 421.9,302.6 422.7,322.6 423.9,341.4 425.7,355.2 428.9,377.8 432.7,400.3 437.7,422.9 442.2,445.4 446.5,465.5 450.7,485.5 452.9,490.0 458.7,514.9 463.7,539.9 467.9,564.8 472.0,589.8 474.5,614.7 476.7,631.4 477.6,640.0 479.6,663.1 480.7,675.4 481.5,690.7 482.7,701.5 483.8,712.3 484.5,719.2" stroke="#ff00ff" stroke-width="1" fill="none"/>
<polyline points="484.5,719.2 505.0,733.0" stroke="#ff00ff" stroke-width="1" fill="none"/>
<polyline points="484.5,719.2 476.8,733.0" stroke="#ff00ff" stroke-width="1" fill="none"/>
</g>
<rect x="348" y="706" width="7" height="7" fill="#c8c800"/>
<text x="351.5" y="712.5" font-size="8px" font-weight="bold" fill="#303000" text-anchor="middle">1</text>
<rect x="324" y="681" width="7" height="7" fill="#c8c800"/>
<text x="327.5" y="687.5" font-size="8px" font-weight="bold" fill="#303000" text-anchor="middle">2</text>
<rect x="398" y="654" width="7" height="7" fill="#c8c800"/>
<text x="401.5" y="660.5" font-size="8px" font-weight="bold" fill="#303000" text-anchor="middle">3</text>
<rect x="67.5" y="607.5" width="43" height="17" fill="#000" stroke="#ffff00"/><text filter="url(#bl2)" x="71.2" y="621.3" font-size="14px" fill="#ffff00" textLength="36.0" lengthAdjust="spacingAndGlyphs">CAPE</text>
<rect x="67.5" y="636.5" width="57" height="17" fill="#000" stroke="#e07000"/><text filter="url(#bl2)" x="71.2" y="650.3" font-size="14px" fill="#e07000" textLength="49.8" lengthAdjust="spacingAndGlyphs">CINH * 5</text>
<rect x="625.5" y="710.5" width="30" height="17" fill="#000" stroke="#ff00ff"/><text filter="url(#bl2)" x="629.5" y="724.3" font-size="14px" fill="#ff00ff" textLength="23.0" lengthAdjust="spacingAndGlyphs">LCL</text>
<line x1="761.5" y1="40" x2="761.5" y2="770" stroke="#00ff00"/>
<line x1="826.5" y1="40" x2="826.5" y2="770" stroke="#ff0080"/>
<line x1="761.5" y1="54.2" x2="733.7" y2="60.0" stroke="#fff"/>
<line x1="761.5" y1="74.2" x2="732.6" y2="78.4" stroke="#fff"/>
<line x1="761.5" y1="105.5" x2="736.8" y2="119.5" stroke="#fff"/>
<line x1="761.5" y1="134.2" x2="733.7" y2="143.2" stroke="#fff"/>
<line x1="761.5" y1="167.4" x2="736.8" y2="181.6" stroke="#fff"/>
<line x1="761.5" y1="191.6" x2="734.7" y2="201.3" stroke="#fff"/>
<line x1="761.5" y1="218.4" x2="733.7" y2="225.3" stroke="#fff"/>
<line x1="761.5" y1="228.4" x2="733.7" y2="234.2" stroke="#fff"/>
<line x1="761.5" y1="238.4" x2="733.7" y2="246.0" stroke="#fff"/>
<line x1="761.5" y1="260.5" x2="733.7" y2="268.9" stroke="#fff"/>
<line x1="761.5" y1="277.6" x2="734.7" y2="288.4" stroke="#fff"/>
<line x1="761.5" y1="304.5" x2="734.7" y2="315.3" stroke="#fff"/>
<line x1="761.5" y1="321.6" x2="733.7" y2="332.1" stroke="#fff"/>
<line x1="761.5" y1="323.7" x2="733.7" y2="333.7" stroke="#fff"/>
<line x1="761.5" y1="341.3" x2="733.7" y2="348.4" stroke="#fff"/>
<line x1="761.5" y1="354.5" x2="733.7" y2="360.5" stroke="#fff"/>
<line x1="761.5" y1="383.7" x2="733.7" y2="389.5" stroke="#fff"/>
<line x1="761.5" y1="394.2" x2="733.7" y2="400.5" stroke="#fff"/>
<line x1="761.5" y1="449.5" x2="732.6" y2="452.6" stroke="#fff"/>
<line x1="761.5" y1="452.6" x2="732.6" y2="456.3" stroke="#fff"/>
<line x1="761.5" y1="459.2" x2="732.6" y2="461.3" stroke="#fff"/>
<line x1="761.5" y1="483.2" x2="732.6" y2="482.1" stroke="#fff"/>
<line x1="761.5" y1="486.8" x2="732.6" y2="486.8" stroke="#fff"/>
<line x1="761.5" y1="498.7" x2="733.7" y2="504.5" stroke="#fff"/>
<line x1="761.5" y1="524.0" x2="732.6" y2="517.0" stroke="#fff"/>
<line x1="761.5" y1="526.5" x2="732.6" y2="519.0" stroke="#fff"/>
<line x1="761.5" y1="529.5" x2="732.6" y2="522.5" stroke="#fff"/>
<line x1="761.5" y1="532.5" x2="732.6" y2="526.5" stroke="#fff"/>
<line x1="761.5" y1="535.5" x2="732.6" y2="529.5" stroke="#fff"/>
<line x1="761.5" y1="552.7" x2="732.6" y2="547.4" stroke="#fff"/>
<line x1="761.5" y1="556.5" x2="732.6" y2="551.2" stroke="#fff"/>
<line x1="761.5" y1="562.7" x2="732.6" y2="558.2" stroke="#fff"/>
<line x1="761.5" y1="568.3" x2="732.6" y2="560.8" stroke="#fff"/>
<line x1="761.5" y1="574.3" x2="733.0" y2="567.8" stroke="#fff"/>
<line x1="761.5" y1="576.5" x2="733.0" y2="570.0" stroke="#fff"/>
<line x1="761.5" y1="578.0" x2="733.0" y2="571.5" stroke="#fff"/>
<line x1="761.5" y1="586.5" x2="733.0" y2="578.5" stroke="#fff"/>
<line x1="761.5" y1="591.3" x2="733.0" y2="582.1" stroke="#fff"/>
<line x1="761.5" y1="613.5" x2="733.0" y2="606.9" stroke="#fff"/>
<line x1="761.5" y1="624.2" x2="732.5" y2="624.2" stroke="#fff"/>
<line x1="761.5" y1="625.6" x2="732.5" y2="625.6" stroke="#fff"/>
<line x1="761.5" y1="631.0" x2="732.5" y2="629.0" stroke="#fff"/>
<line x1="761.5" y1="641.3" x2="733.3" y2="634.2" stroke="#fff"/>
<line x1="761.5" y1="641.8" x2="733.3" y2="634.7" stroke="#fff"/>
<line x1="761.5" y1="651.0" x2="733.1" y2="657.3" stroke="#fff"/>
<line x1="761.5" y1="657.3" x2="733.1" y2="664.7" stroke="#fff"/>
<line x1="761.5" y1="664.8" x2="734.2" y2="677.9" stroke="#fff"/>
<line x1="761.5" y1="665.6" x2="734.2" y2="678.7" stroke="#fff"/>
<line x1="761.5" y1="679.7" x2="735.5" y2="695.7" stroke="#fff"/>
<line x1="761.5" y1="684.5" x2="737.0" y2="701.0" stroke="#fff"/>
<line x1="761.5" y1="689.0" x2="736.5" y2="706.5" stroke="#fff"/>
<line x1="761.5" y1="692.9" x2="736.0" y2="710.4" stroke="#fff"/>
<line x1="761.5" y1="696.9" x2="736.5" y2="715.4" stroke="#fff"/>
<line x1="761.5" y1="701.6" x2="737.0" y2="721.1" stroke="#fff"/>
<line x1="761.5" y1="706.4" x2="738.0" y2="726.4" stroke="#fff"/>
<line x1="761.5" y1="711.5" x2="739.0" y2="733.0" stroke="#fff"/>
<line x1="761.5" y1="713.5" x2="738.5" y2="734.0" stroke="#fff"/>
<line x1="761.5" y1="716.0" x2="738.9" y2="735.7" stroke="#fff"/>
<line x1="761.5" y1="723.7" x2="790.3" y2="715.8" stroke="#fff"/>
<line x1="761.5" y1="724.6" x2="791.0" y2="720.3" stroke="#fff"/>
<line x1="761.5" y1="723.5" x2="766.5" y2="703.8" stroke="#fff"/>
<line x1="761.5" y1="725.5" x2="768.6" y2="752.0" stroke="#fff"/>
<line x1="826.5" y1="54.2" x2="802.6" y2="70.5" stroke="#fff"/>
<line x1="826.5" y1="74.2" x2="800.5" y2="87.4" stroke="#fff"/>
<line x1="826.5" y1="105.5" x2="810.8" y2="128.4" stroke="#fff"/>
<line x1="826.5" y1="134.2" x2="805.8" y2="153.4" stroke="#fff"/>
<line x1="826.5" y1="167.4" x2="808.9" y2="189.5" stroke="#fff"/>
<line x1="826.5" y1="191.6" x2="803.9" y2="208.2" stroke="#fff"/>
<line x1="826.5" y1="218.4" x2="800.5" y2="231.0" stroke="#fff"/>
<line x1="826.5" y1="228.4" x2="799.4" y2="240.3" stroke="#fff"/>
<line x1="826.5" y1="238.4" x2="800.5" y2="251.0" stroke="#fff"/>
<line x1="826.5" y1="260.5" x2="801.6" y2="275.0" stroke="#fff"/>
<line x1="826.5" y1="277.6" x2="802.6" y2="293.4" stroke="#fff"/>
<line x1="826.5" y1="304.5" x2="803.9" y2="321.1" stroke="#fff"/>
<line x1="826.5" y1="321.6" x2="801.6" y2="338.2" stroke="#fff"/>
<line x1="826.5" y1="323.7" x2="801.6" y2="339.9" stroke="#fff"/>
<line x1="826.5" y1="341.3" x2="800.5" y2="354.5" stroke="#fff"/>
<line x1="826.5" y1="354.5" x2="799.4" y2="365.3" stroke="#fff"/>
<line x1="826.5" y1="383.7" x2="800.5" y2="395.3" stroke="#fff"/>
<line x1="826.5" y1="394.2" x2="800.5" y2="407.4" stroke="#fff"/>
<line x1="826.5" y1="449.5" x2="799.4" y2="459.2" stroke="#fff"/>
<line x1="826.5" y1="452.6" x2="798.9" y2="463.2" stroke="#fff"/>
<line x1="826.5" y1="459.2" x2="798.4" y2="468.4" stroke="#fff"/>
<line x1="826.5" y1="483.2" x2="797.9" y2="488.2" stroke="#fff"/>
<line x1="826.5" y1="486.8" x2="798.4" y2="493.4" stroke="#fff"/>
<line x1="826.5" y1="498.7" x2="807.3" y2="519.5" stroke="#fff"/>
<line x1="826.5" y1="524.0" x2="804.5" y2="543.0" stroke="#fff"/>
<line x1="826.5" y1="526.5" x2="806.5" y2="547.5" stroke="#fff"/>
<line x1="826.5" y1="529.5" x2="798.5" y2="534.5" stroke="#fff"/>
<line x1="826.5" y1="532.5" x2="799.5" y2="543.5" stroke="#fff"/>
<line x1="826.5" y1="535.5" x2="802.5" y2="551.5" stroke="#fff"/>
<line x1="826.5" y1="552.7" x2="798.0" y2="558.2" stroke="#fff"/>
<line x1="826.5" y1="556.5" x2="798.0" y2="561.0" stroke="#fff"/>
<line x1="826.5" y1="562.7" x2="797.5" y2="565.2" stroke="#fff"/>
<line x1="826.5" y1="568.3" x2="797.5" y2="572.3" stroke="#fff"/>
<line x1="826.5" y1="574.3" x2="797.5" y2="574.3" stroke="#fff"/>
<line x1="826.5" y1="576.5" x2="798.0" y2="575.0" stroke="#fff"/>
<line x1="826.5" y1="578.0" x2="798.0" y2="576.5" stroke="#fff"/>
<line x1="826.5" y1="586.5" x2="797.5" y2="589.1" stroke="#fff"/>
<line x1="826.5" y1="591.3" x2="798.0" y2="596.6" stroke="#fff"/>
<line x1="826.5" y1="613.5" x2="797.5" y2="613.0" stroke="#fff"/>
<line x1="826.5" y1="624.2" x2="800.5" y2="637.2" stroke="#fff"/>
<line x1="826.5" y1="625.6" x2="800.5" y2="639.1" stroke="#fff"/>
<line x1="826.5" y1="631.0" x2="803.0" y2="646.8" stroke="#fff"/>
<line x1="826.5" y1="641.3" x2="797.5" y2="641.8" stroke="#fff"/>
<line x1="826.5" y1="641.8" x2="802.0" y2="648.3" stroke="#fff"/>
<line x1="826.5" y1="651.0" x2="810.2" y2="675.5" stroke="#fff"/>
<line x1="826.5" y1="657.3" x2="809.4" y2="680.7" stroke="#fff"/>
<line x1="826.5" y1="664.8" x2="826.0" y2="691.8" stroke="#fff"/>
<line x1="826.5" y1="665.6" x2="826.5" y2="693.6" stroke="#fff"/>
<line x1="826.5" y1="686.0" x2="827.5" y2="711.0" stroke="#fff"/>
<line x1="826.5" y1="698.0" x2="827.0" y2="722.0" stroke="#fff"/>
<line x1="826.5" y1="707.0" x2="827.5" y2="729.0" stroke="#fff"/>
<line x1="826.5" y1="677.0" x2="818.9" y2="696.7" stroke="#fff"/>
<line x1="826.5" y1="679.5" x2="823.7" y2="693.7" stroke="#fff"/>
<line x1="826.5" y1="684.5" x2="828.5" y2="704.5" stroke="#fff"/>
<line x1="826.5" y1="689.0" x2="834.5" y2="711.0" stroke="#fff"/>
<line x1="826.5" y1="692.9" x2="845.8" y2="714.2" stroke="#fff"/>
<line x1="826.5" y1="696.9" x2="842.6" y2="718.2" stroke="#fff"/>
<line x1="826.5" y1="701.6" x2="840.5" y2="721.6" stroke="#fff"/>
<line x1="826.5" y1="706.4" x2="835.5" y2="724.4" stroke="#fff"/>
<line x1="826.5" y1="711.5" x2="832.5" y2="727.5" stroke="#fff"/>
<line x1="826.5" y1="713.5" x2="830.5" y2="725.5" stroke="#fff"/>
<line x1="826.5" y1="716.0" x2="831.5" y2="731.0" stroke="#fff"/>
<line x1="826.5" y1="723.7" x2="855.3" y2="730.0" stroke="#fff"/>
<line x1="826.5" y1="724.6" x2="855.3" y2="731.9" stroke="#fff"/>
<line x1="826.5" y1="725.5" x2="839.5" y2="743.7" stroke="#fff"/>
<line x1="826.5" y1="728.0" x2="833.9" y2="744.6" stroke="#fff"/>
<line x1="826.5" y1="728.5" x2="830.0" y2="743.5" stroke="#fff"/>
<line x1="826.5" y1="733.2" x2="856.0" y2="735.6" stroke="#fff"/>
<text filter="url(#bl)" x="761" y="32" font-size="13px" font-weight="bold" fill="#00ff00" text-anchor="middle">OBS</text>
<text filter="url(#bl)" x="826.8" y="32" font-size="13px" font-weight="bold" fill="#ff0080" text-anchor="middle">SR</text>
</g>
<g font-size="16px" font-weight="bold">
<text x="63.0" y="29.0" textLength="240.5" lengthAdjust="spacingAndGlyphs" >Station: 06610 Payerne (LSMP)</text>
<text x="329.0" y="29.0" textLength="129.0" lengthAdjust="spacingAndGlyphs" >Date: 22.07.2020</text>
<text x="479.0" y="29.0" textLength="93.0" lengthAdjust="spacingAndGlyphs" >Time: 1200Z</text>
</g>
<g filter="url(#bl)">
<text x="53.0" y="55.0" text-anchor="end" textLength="21.0" lengthAdjust="spacingAndGlyphs" >100</text>
<text x="53.0" y="326.0" text-anchor="end" textLength="21.0" lengthAdjust="spacingAndGlyphs" >200</text>
<text x="53.0" y="454.0" text-anchor="end" textLength="21.0" lengthAdjust="spacingAndGlyphs" >300</text>
<text x="53.0" y="534.0" text-anchor="end" textLength="21.0" lengthAdjust="spacingAndGlyphs" >400</text>
<text x="53.0" y="591.0" text-anchor="end" textLength="21.0" lengthAdjust="spacingAndGlyphs" >500</text>
<text x="53.0" y="635.0" text-anchor="end" textLength="21.0" lengthAdjust="spacingAndGlyphs" >600</text>
<text x="53.0" y="670.0" text-anchor="end" textLength="21.0" lengthAdjust="spacingAndGlyphs" >700</text>
<text x="53.0" y="699.0" text-anchor="end" textLength="21.0" lengthAdjust="spacingAndGlyphs" >800</text>
<text x="53.0" y="724.0" text-anchor="end" textLength="21.0" lengthAdjust="spacingAndGlyphs" >900</text>
<text x="53.0" y="745.0" text-anchor="end" textLength="28.0" lengthAdjust="spacingAndGlyphs" >1000</text>
<text x="670.5" y="55.0" textLength="45.0" lengthAdjust="spacingAndGlyphs" >16628m</text>
<text x="670.5" y="326.0" textLength="45.0" lengthAdjust="spacingAndGlyphs" >12176m</text>
<text x="670.5" y="454.0" textLength="38.0" lengthAdjust="spacingAndGlyphs" >9525m</text>
<text x="670.5" y="534.0" textLength="38.0" lengthAdjust="spacingAndGlyphs" >7496m</text>
<text x="670.5" y="591.0" textLength="38.0" lengthAdjust="spacingAndGlyphs" >5838m</text>
<text x="670.5" y="635.0" textLength="38.0" lengthAdjust="spacingAndGlyphs" >4424m</text>
<text x="670.5" y="670.0" textLength="38.0" lengthAdjust="spacingAndGlyphs" >3185m</text>
<text x="670.5" y="699.0" textLength="38.0" lengthAdjust="spacingAndGlyphs" >2079m</text>
<text x="670.5" y="724.0" textLength="38.0" lengthAdjust="spacingAndGlyphs" >1076m</text>
<text x="59.3" y="768.0" text-anchor="middle" textLength="17.0" lengthAdjust="spacingAndGlyphs" >-50</text>
<text x="61.5" y="805.0" text-anchor="middle" textLength="6.0" lengthAdjust="spacingAndGlyphs" >0</text>
<text x="61.5" y="842.5" text-anchor="middle" textLength="6.0" lengthAdjust="spacingAndGlyphs" >0</text>
<text x="119.3" y="768.0" text-anchor="middle" textLength="17.0" lengthAdjust="spacingAndGlyphs" >-40</text>
<text x="121.5" y="805.0" text-anchor="middle" textLength="13.0" lengthAdjust="spacingAndGlyphs" >10</text>
<text x="121.5" y="842.5" text-anchor="middle" textLength="20.0" lengthAdjust="spacingAndGlyphs" >300</text>
<text x="179.3" y="768.0" text-anchor="middle" textLength="17.0" lengthAdjust="spacingAndGlyphs" >-30</text>
<text x="181.5" y="805.0" text-anchor="middle" textLength="13.0" lengthAdjust="spacingAndGlyphs" >20</text>
<text x="181.5" y="842.5" text-anchor="middle" textLength="20.0" lengthAdjust="spacingAndGlyphs" >600</text>
<text x="239.3" y="768.0" text-anchor="middle" textLength="17.0" lengthAdjust="spacingAndGlyphs" >-20</text>
<text x="241.5" y="805.0" text-anchor="middle" textLength="13.0" lengthAdjust="spacingAndGlyphs" >30</text>
<text x="241.5" y="842.5" text-anchor="middle" textLength="20.0" lengthAdjust="spacingAndGlyphs" >900</text>
<text x="299.3" y="768.0" text-anchor="middle" textLength="17.0" lengthAdjust="spacingAndGlyphs" >-10</text>
<text x="301.5" y="805.0" text-anchor="middle" textLength="13.0" lengthAdjust="spacingAndGlyphs" >40</text>
<text x="301.5" y="842.5" text-anchor="middle" textLength="27.0" lengthAdjust="spacingAndGlyphs" >1200</text>
<text x="361.5" y="768.0" text-anchor="middle" textLength="6.0" lengthAdjust="spacingAndGlyphs" >0</text>
<text x="361.5" y="805.0" text-anchor="middle" textLength="13.0" lengthAdjust="spacingAndGlyphs" >50</text>
<text x="361.5" y="842.5" text-anchor="middle" textLength="27.0" lengthAdjust="spacingAndGlyphs" >1500</text>
<text x="421.5" y="768.0" text-anchor="middle" textLength="13.0" lengthAdjust="spacingAndGlyphs" >10</text>
<text x="421.5" y="805.0" text-anchor="middle" textLength="13.0" lengthAdjust="spacingAndGlyphs" >60</text>
<text x="421.5" y="842.5" text-anchor="middle" textLength="27.0" lengthAdjust="spacingAndGlyphs" >1800</text>
<text x="481.5" y="768.0" text-anchor="middle" textLength="13.0" lengthAdjust="spacingAndGlyphs" >20</text>
<text x="481.5" y="805.0" text-anchor="middle" textLength="13.0" lengthAdjust="spacingAndGlyphs" >70</text>
<text x="481.5" y="842.5" text-anchor="middle" textLength="27.0" lengthAdjust="spacingAndGlyphs" >2100</text>
<text x="541.5" y="768.0" text-anchor="middle" textLength="13.0" lengthAdjust="spacingAndGlyphs" >30</text>
<text x="541.5" y="805.0" text-anchor="middle" textLength="13.0" lengthAdjust="spacingAndGlyphs" >80</text>
<text x="541.5" y="842.5" text-anchor="middle" textLength="27.0" lengthAdjust="spacingAndGlyphs" >2400</text>
<text x="601.5" y="768.0" text-anchor="middle" textLength="13.0" lengthAdjust="spacingAndGlyphs" >40</text>
<text x="601.5" y="805.0" text-anchor="middle" textLength="13.0" lengthAdjust="spacingAndGlyphs" >90</text>
<text x="601.5" y="842.5" text-anchor="middle" textLength="27.0" lengthAdjust="spacingAndGlyphs" >2700</text>
<text x="661.5" y="768.0" text-anchor="middle" textLength="13.0" lengthAdjust="spacingAndGlyphs" >50</text>
<text x="661.5" y="805.0" text-anchor="middle" textLength="20.0" lengthAdjust="spacingAndGlyphs" >100</text>
<text x="661.5" y="842.5" text-anchor="middle" textLength="27.0" lengthAdjust="spacingAndGlyphs" >3000</text>
<text x="59.3" y="879.5" text-anchor="middle" textLength="24.0" lengthAdjust="spacingAndGlyphs" >-100</text>
<text x="134.3" y="879.5" text-anchor="middle" textLength="17.0" lengthAdjust="spacingAndGlyphs" >-50</text>
<text x="211.5" y="879.5" text-anchor="middle" textLength="6.0" lengthAdjust="spacingAndGlyphs" >0</text>
<text x="286.5" y="879.5" text-anchor="middle" textLength="13.0" lengthAdjust="spacingAndGlyphs" >50</text>
<text x="361.5" y="879.5" text-anchor="middle" textLength="20.0" lengthAdjust="spacingAndGlyphs" >100</text>
<text x="436.5" y="879.5" text-anchor="middle" textLength="20.0" lengthAdjust="spacingAndGlyphs" >150</text>
<text x="511.5" y="879.5" text-anchor="middle" textLength="20.0" lengthAdjust="spacingAndGlyphs" >200</text>
<text x="586.5" y="879.5" text-anchor="middle" textLength="20.0" lengthAdjust="spacingAndGlyphs" >250</text>
<text x="661.5" y="879.5" text-anchor="middle" textLength="20.0" lengthAdjust="spacingAndGlyphs" >300</text>
<text x="275.7" y="780.5" textLength="139.6" lengthAdjust="spacingAndGlyphs" >Temperature, Dewpoint</text>
<text x="421.6" y="780.5" textLength="25.7" lengthAdjust="spacingAndGlyphs" >[ °C ]</text>
<text x="306.9" y="818.0" textLength="68.8" lengthAdjust="spacingAndGlyphs" >Windspeed</text>
<text x="383.4" y="818.0" textLength="29.8" lengthAdjust="spacingAndGlyphs" >[ knt ]</text>
<text x="292.9" y="856.5" textLength="90.1" lengthAdjust="spacingAndGlyphs" >CAPE, CINH * 5</text>
<text x="390.6" y="856.5" textLength="38.4" lengthAdjust="spacingAndGlyphs" >[ J/kg ]</text>
<text x="259.8" y="892.5" textLength="133.3" lengthAdjust="spacingAndGlyphs" >Storm Relative Helicity</text>
<text x="400.7" y="892.5" textLength="62.8" lengthAdjust="spacingAndGlyphs" >[ m^2/s^2 ]</text>
</g>
<text x="894.5" y="39.5" textLength="59.8" lengthAdjust="spacingAndGlyphs" >Parameter</text>
<rect x="894" y="41" width="60" height="1" fill="#fff"/>
<text x="894.5" y="103.5" textLength="258.7" lengthAdjust="spacingAndGlyphs" >Parcels: Using 50mB mean layer LCL + CCL</text>
<rect x="894" y="105" width="259" height="1" fill="#fff"/>
<text x="894.5" y="355.5" textLength="105.3" lengthAdjust="spacingAndGlyphs" >Convective Indices</text>
<rect x="894" y="357" width="105" height="1" fill="#fff"/>
<text x="894.5" y="604.5" textLength="100.3" lengthAdjust="spacingAndGlyphs" >Wind Parameters</text>
<rect x="894" y="606" width="100" height="1" fill="#fff"/>
<text x="1124.5" y="39.5" text-anchor="end" >Value LCL</text>
<rect x="1064" y="41" width="60" height="1" fill="#fff"/>
<text x="1214.0" y="39.5" text-anchor="end" >Value CCL</text>
<rect x="1152" y="41" width="62" height="1" fill="#fff"/>
<text x="1230.5" y="39.5" >Unit</text>
<rect x="1230" y="41" width="23" height="1" fill="#fff"/>
<text x="894.5" y="61.5" textLength="139.8" lengthAdjust="spacingAndGlyphs" >Convective Temperature:</text>
<text x="1124.5" y="61.5" text-anchor="end" fill="#ff0000" textLength="32.2" lengthAdjust="spacingAndGlyphs" >27.46</text>
<text x="1230.5" y="61.5" >[°C]</text>
<text x="894.5" y="78.5" textLength="91.8" lengthAdjust="spacingAndGlyphs" >Snowfall Height:</text>
<text x="1124.5" y="78.5" text-anchor="end" fill="#ffffff" textLength="46.2" lengthAdjust="spacingAndGlyphs" >3561.35</text>
<text x="1230.5" y="78.5" >[m]</text>
<text x="894.5" y="123.5" textLength="69.0" lengthAdjust="spacingAndGlyphs" >Lifted Index:</text>
<text x="1124.5" y="123.5" text-anchor="end" fill="#ff0000" textLength="29.5" lengthAdjust="spacingAndGlyphs" >-6.43</text>
<text x="1214.0" y="123.5" text-anchor="end" fill="#ff0000" textLength="29.5" lengthAdjust="spacingAndGlyphs" >-8.71</text>
<text x="1230.5" y="123.5" >[°C]</text>
<text x="894.5" y="140.5" textLength="61.2" lengthAdjust="spacingAndGlyphs" >CAPE ML:</text>
<text x="1124.5" y="140.5" text-anchor="end" fill="#ff0000" textLength="46.2" lengthAdjust="spacingAndGlyphs" >1707.59</text>
<text x="1214.0" y="140.5" text-anchor="end" fill="#ff0000" textLength="46.2" lengthAdjust="spacingAndGlyphs" >2688.78</text>
<text x="1230.5" y="140.5" >[J/kg]</text>
<text x="894.5" y="157.5" textLength="174.3" lengthAdjust="spacingAndGlyphs" >CINH | LSI (Inversion: 871mB):</text>
<text x="1124.5" y="157.5" text-anchor="end" fill="#ff0000" textLength="32.2" lengthAdjust="spacingAndGlyphs" >50.23</text>
<text x="1124.5" y="157.5" fill="#ffffff" >,</text>
<text x="1137.0" y="157.5" fill="#ff0000" textLength="25.2" lengthAdjust="spacingAndGlyphs" >0.56</text>
<text x="1230.5" y="157.5" textLength="61.2" lengthAdjust="spacingAndGlyphs" >[J/kg], [°C]</text>
<text x="894.5" y="174.5" textLength="68.7" lengthAdjust="spacingAndGlyphs" >CAPE SFC:</text>
<text x="1124.5" y="174.5" text-anchor="end" fill="#ff0000" textLength="46.2" lengthAdjust="spacingAndGlyphs" >2059.10</text>
<text x="1214.0" y="174.5" text-anchor="end" fill="#ff0000" textLength="46.2" lengthAdjust="spacingAndGlyphs" >2868.19</text>
<text x="1230.5" y="174.5" >[J/kg]</text>
<text x="894.5" y="191.5" textLength="128.1" lengthAdjust="spacingAndGlyphs" >CAPE MU | CINH MU:</text>
<text x="1124.5" y="191.5" text-anchor="end" fill="#ff0000" textLength="46.2" lengthAdjust="spacingAndGlyphs" >2059.10</text>
<text x="1124.5" y="191.5" fill="#ffffff" >,</text>
<text x="1137.0" y="191.5" fill="#ff0000" textLength="32.2" lengthAdjust="spacingAndGlyphs" >27.63</text>
<text x="1230.5" y="191.5" >[J/kg]</text>
<text x="894.5" y="208.5" textLength="159.0" lengthAdjust="spacingAndGlyphs" >3km SFC CAPE | IL CAPE:</text>
<text x="1124.5" y="208.5" text-anchor="end" fill="#ff0000" textLength="39.2" lengthAdjust="spacingAndGlyphs" >102.27</text>
<text x="1124.5" y="208.5" fill="#ffffff" >,</text>
<text x="1137.0" y="208.5" fill="#ff0000" textLength="46.2" lengthAdjust="spacingAndGlyphs" >1591.37</text>
<text x="1230.5" y="208.5" >[J/kg]</text>
<text x="894.5" y="225.5" textLength="141.2" lengthAdjust="spacingAndGlyphs" >DCAPE (LFS = 509mB):</text>
<text x="1124.5" y="225.5" text-anchor="end" fill="#ffff00" textLength="39.2" lengthAdjust="spacingAndGlyphs" >433.07</text>
<text x="1230.5" y="225.5" >[J/kg]</text>
<text x="894.5" y="242.5" textLength="119.2" lengthAdjust="spacingAndGlyphs" >850-600 Lapse Rate:</text>
<text x="1124.5" y="242.5" text-anchor="end" fill="#ff0000" textLength="32.2" lengthAdjust="spacingAndGlyphs" >19.20</text>
<text x="1230.5" y="242.5" >[°C]</text>
<text x="894.5" y="259.5" textLength="155.1" lengthAdjust="spacingAndGlyphs" >FM Hail Size | SHIP | LHP:</text>
<text x="1124.5" y="259.5" text-anchor="end" fill="#ff0000" textLength="48.5" lengthAdjust="spacingAndGlyphs" >3.8 - 5.1</text>
<text x="1124.5" y="259.5" fill="#ffffff" >,</text>
<text x="1137.0" y="259.5" fill="#ff0000" textLength="25.2" lengthAdjust="spacingAndGlyphs" >1.76</text>
<text x="1162.5" y="259.5" fill="#ffffff" >,</text>
<text x="1175.0" y="259.5" fill="#ff0000" textLength="32.2" lengthAdjust="spacingAndGlyphs" >10.31</text>
<text x="1230.5" y="259.5" textLength="71.2" lengthAdjust="spacingAndGlyphs" >[cm], [1], [1]</text>
<text x="894.5" y="276.5" textLength="146.2" lengthAdjust="spacingAndGlyphs" >Estofex Exp. Hail Param:</text>
<text x="1124.5" y="276.5" text-anchor="end" fill="#ff0000" textLength="25.2" lengthAdjust="spacingAndGlyphs" >3.95</text>
<text x="1230.5" y="276.5" >[cm]</text>
<text x="894.5" y="293.5" textLength="172.2" lengthAdjust="spacingAndGlyphs" >Max. Hail Size (OLD, MU, IL):</text>
<text x="1124.5" y="293.5" text-anchor="end" fill="#ff0000" textLength="25.2" lengthAdjust="spacingAndGlyphs" >4.11</text>
<text x="1124.5" y="293.5" fill="#ffffff" >,</text>
<text x="1137.0" y="293.5" fill="#ff0000" textLength="25.2" lengthAdjust="spacingAndGlyphs" >4.02</text>
<text x="1162.5" y="293.5" fill="#ffffff" >,</text>
<text x="1173.5" y="293.5" fill="#ff0000" textLength="25.2" lengthAdjust="spacingAndGlyphs" >4.66</text>
<text x="1230.5" y="293.5" >[cm]</text>
<text x="894.5" y="313.5" textLength="101.4" lengthAdjust="spacingAndGlyphs" >LCL / CCL (AGL):</text>
<text x="1124.5" y="313.5" text-anchor="end" fill="#ff0000" textLength="39.2" lengthAdjust="spacingAndGlyphs" >601.61</text>
<text x="1214.0" y="313.5" text-anchor="end" fill="#ffff00" textLength="46.2" lengthAdjust="spacingAndGlyphs" >1188.17</text>
<text x="1230.5" y="313.5" >[m]</text>
<text x="894.5" y="330.5" textLength="105.0" lengthAdjust="spacingAndGlyphs" >Convective Height:</text>
<text x="1124.5" y="330.5" text-anchor="end" fill="#ff0000" textLength="32.2" lengthAdjust="spacingAndGlyphs" >10.71</text>
<text x="1214.0" y="330.5" text-anchor="end" fill="#ff0000" textLength="32.2" lengthAdjust="spacingAndGlyphs" >10.26</text>
<text x="1230.5" y="330.5" >[km]</text>
<text x="894.5" y="375.5" textLength="95.4" lengthAdjust="spacingAndGlyphs" >Showalter Index:</text>
<text x="1124.5" y="375.5" text-anchor="end" fill="#ff0000" textLength="29.5" lengthAdjust="spacingAndGlyphs" >-0.51</text>
<text x="1230.5" y="375.5" >[°C]</text>
<text x="894.5" y="392.5" textLength="150.1" lengthAdjust="spacingAndGlyphs" >Modified Thompson Index:</text>
<text x="1124.5" y="392.5" text-anchor="end" fill="#ff0000" textLength="32.2" lengthAdjust="spacingAndGlyphs" >51.60</text>
<text x="1230.5" y="392.5" >[°C]</text>
<text x="894.5" y="409.5" textLength="105.0" lengthAdjust="spacingAndGlyphs" >Total Totals Index:</text>
<text x="1124.5" y="409.5" text-anchor="end" fill="#ff0000" textLength="32.2" lengthAdjust="spacingAndGlyphs" >51.20</text>
<text x="1230.5" y="409.5" >[°C]</text>
<text x="894.5" y="426.5" textLength="56.9" lengthAdjust="spacingAndGlyphs" >KO Index:</text>
<text x="1124.5" y="426.5" text-anchor="end" fill="#ff0000" textLength="36.5" lengthAdjust="spacingAndGlyphs" >-12.41</text>
<text x="1230.5" y="426.5" >[1]</text>
<text x="894.5" y="443.5" textLength="122.7" lengthAdjust="spacingAndGlyphs" >Craven SigSvr / 1000:</text>
<text x="1124.5" y="443.5" text-anchor="end" fill="#ff0000" textLength="32.2" lengthAdjust="spacingAndGlyphs" >24.34</text>
<text x="1230.5" y="443.5" textLength="53.0" lengthAdjust="spacingAndGlyphs" >[m^3/s^3]</text>
<text x="894.5" y="460.5" textLength="114.2" lengthAdjust="spacingAndGlyphs" >SCP RM (new, old):</text>
<text x="1124.5" y="460.5" text-anchor="end" fill="#ff0000" textLength="25.2" lengthAdjust="spacingAndGlyphs" >4.12</text>
<text x="1124.5" y="460.5" fill="#ffffff" >,</text>
<text x="1137.0" y="460.5" fill="#ff0000" textLength="25.2" lengthAdjust="spacingAndGlyphs" >3.48</text>
<text x="1230.5" y="460.5" >[1]</text>
<text x="894.5" y="477.5" textLength="88.2" lengthAdjust="spacingAndGlyphs" >STP (new, old):</text>
<text x="1124.5" y="477.5" text-anchor="end" fill="#ff0000" textLength="25.2" lengthAdjust="spacingAndGlyphs" >1.06</text>
<text x="1124.5" y="477.5" fill="#ffffff" >,</text>
<text x="1137.0" y="477.5" fill="#ff0000" textLength="25.2" lengthAdjust="spacingAndGlyphs" >1.06</text>
<text x="1230.5" y="477.5" >[1]</text>
<text x="894.5" y="494.5" textLength="135.2" lengthAdjust="spacingAndGlyphs" >SB STP (fix) | CWASP:</text>
<text x="1124.5" y="494.5" text-anchor="end" fill="#ff0000" textLength="25.2" lengthAdjust="spacingAndGlyphs" >1.92</text>
<text x="1124.5" y="494.5" fill="#ffffff" >,</text>
<text x="1137.0" y="494.5" fill="#ffff00" textLength="32.2" lengthAdjust="spacingAndGlyphs" >58.59</text>
<text x="1230.5" y="494.5" textLength="42.0" lengthAdjust="spacingAndGlyphs" >[1], [%]</text>
<text x="894.5" y="511.5" textLength="112.1" lengthAdjust="spacingAndGlyphs" >DCP | MMP | MSP:</text>
<text x="1124.5" y="511.5" text-anchor="end" fill="#ff0000" textLength="25.2" lengthAdjust="spacingAndGlyphs" >0.76</text>
<text x="1124.5" y="511.5" fill="#ffffff" >,</text>
<text x="1137.0" y="511.5" fill="#ff0000" textLength="32.2" lengthAdjust="spacingAndGlyphs" >84.01</text>
<text x="1169.5" y="511.5" fill="#ffffff" >,</text>
<text x="1180.0" y="511.5" fill="#00ff00" textLength="32.2" lengthAdjust="spacingAndGlyphs" >40.29</text>
<text x="1230.5" y="511.5" textLength="70.1" lengthAdjust="spacingAndGlyphs" >[1], [%], [%]</text>
<text x="894.5" y="528.5" textLength="125.9" lengthAdjust="spacingAndGlyphs" >MB Comp | SHERBE:</text>
<text x="1124.5" y="528.5" text-anchor="end" fill="#00ff00" textLength="25.2" lengthAdjust="spacingAndGlyphs" >0.00</text>
<text x="1124.5" y="528.5" fill="#ffffff" >,</text>
<text x="1137.0" y="528.5" fill="#ffff00" textLength="25.2" lengthAdjust="spacingAndGlyphs" >0.74</text>
<text x="1230.5" y="528.5" textLength="37.0" lengthAdjust="spacingAndGlyphs" >[1], [1]</text>
<text x="894.5" y="545.5" textLength="144.8" lengthAdjust="spacingAndGlyphs" >Exp. Supercell Index CH:</text>
<text x="1124.5" y="545.5" text-anchor="end" fill="#ff0000" textLength="25.2" lengthAdjust="spacingAndGlyphs" >5.38</text>
<text x="1230.5" y="545.5" >[1]</text>
<text x="894.5" y="562.5" textLength="98.9" lengthAdjust="spacingAndGlyphs" >SWISS 12 Index:</text>
<text x="1124.5" y="562.5" text-anchor="end" fill="#ff0000" textLength="36.5" lengthAdjust="spacingAndGlyphs" >-13.93</text>
<text x="1230.5" y="562.5" >[1]</text>
<text x="894.5" y="579.5" textLength="109.9" lengthAdjust="spacingAndGlyphs" >Precipitable Water:</text>
<text x="1124.5" y="579.5" text-anchor="end" fill="#ff0000" textLength="32.2" lengthAdjust="spacingAndGlyphs" >31.89</text>
<text x="1230.5" y="579.5" >[mm]</text>
<text x="894.5" y="624.5" textLength="143.0" lengthAdjust="spacingAndGlyphs" >Storm Direction | Motion:</text>
<text x="1124.5" y="624.5" text-anchor="end" fill="#ffffff" textLength="39.2" lengthAdjust="spacingAndGlyphs" >286.39</text>
<text x="1124.5" y="624.5" fill="#ffffff" >,</text>
<text x="1137.0" y="624.5" fill="#ffff00" textLength="32.2" lengthAdjust="spacingAndGlyphs" >18.50</text>
<text x="1230.5" y="624.5" textLength="45.9" lengthAdjust="spacingAndGlyphs" >[°], [knt]</text>
<text x="894.5" y="641.5" textLength="116.0" lengthAdjust="spacingAndGlyphs" >500m Critical Angle:</text>
<text x="1124.5" y="641.5" text-anchor="end" fill="#ffff00" textLength="32.2" lengthAdjust="spacingAndGlyphs" >61.04</text>
<text x="1230.5" y="641.5" >[°]</text>
<text x="894.5" y="661.5" textLength="107.1" lengthAdjust="spacingAndGlyphs" >SR Wind Sfc-2km:</text>
<text x="1124.5" y="661.5" text-anchor="end" fill="#ffff00" textLength="32.2" lengthAdjust="spacingAndGlyphs" >13.61</text>
<text x="1230.5" y="661.5" >[knt]</text>
<text x="894.5" y="678.5" textLength="113.1" lengthAdjust="spacingAndGlyphs" >SR Wind 4km-6km:</text>
<text x="1124.5" y="678.5" text-anchor="end" fill="#00ff00" textLength="32.2" lengthAdjust="spacingAndGlyphs" >11.83</text>
<text x="1230.5" y="678.5" >[knt]</text>
<text x="894.5" y="695.5" textLength="120.3" lengthAdjust="spacingAndGlyphs" >SR Wind 9km-11km:</text>
<text x="1124.5" y="695.5" text-anchor="end" fill="#ff0000" textLength="32.2" lengthAdjust="spacingAndGlyphs" >36.02</text>
<text x="1230.5" y="695.5" textLength="47.0" lengthAdjust="spacingAndGlyphs" >[knt] HP</text>
<text x="894.5" y="715.5" textLength="121.0" lengthAdjust="spacingAndGlyphs" >Effective Shear 6000:</text>
<text x="1124.5" y="715.5" text-anchor="end" fill="#ffff00" textLength="32.2" lengthAdjust="spacingAndGlyphs" >27.71</text>
<text x="1230.5" y="715.5" >[knt]</text>
<text x="894.5" y="735.5" textLength="146.9" lengthAdjust="spacingAndGlyphs" >Bulk Richardson Number:</text>
<text x="1124.5" y="735.5" text-anchor="end" fill="#ff0000" textLength="32.2" lengthAdjust="spacingAndGlyphs" >32.00</text>
<text x="1214.0" y="735.5" text-anchor="end" fill="#ffff00" textLength="32.2" lengthAdjust="spacingAndGlyphs" >50.39</text>
<text x="1230.5" y="735.5" >[1]</text>
<text x="894.5" y="755.5" textLength="111.0" lengthAdjust="spacingAndGlyphs" >3km Effective SRH:</text>
<text x="1124.5" y="755.5" text-anchor="end" fill="#ff0000" textLength="39.2" lengthAdjust="spacingAndGlyphs" >126.55</text>
<text x="1230.5" y="755.5" textLength="53.0" lengthAdjust="spacingAndGlyphs" >[m^2/s^2]</text>
<text x="894.5" y="772.5" textLength="173.3" lengthAdjust="spacingAndGlyphs" >Max 3km SRH (0-2km) | AGL:</text>
<text x="1124.5" y="772.5" text-anchor="end" fill="#ff0000" textLength="39.2" lengthAdjust="spacingAndGlyphs" >154.62</text>
<text x="1124.5" y="772.5" fill="#ffffff" >,</text>
<text x="1137.0" y="772.5" fill="#00ff00" textLength="46.2" lengthAdjust="spacingAndGlyphs" >1988.00</text>
<text x="1230.5" y="772.5" textLength="80.0" lengthAdjust="spacingAndGlyphs" >[m^2/s^2], [m]</text>
<text x="894.5" y="792.5" textLength="155.1" lengthAdjust="spacingAndGlyphs" >3km Energy Helicity Index:</text>
<text x="1124.5" y="792.5" text-anchor="end" fill="#ff0000" textLength="25.2" lengthAdjust="spacingAndGlyphs" >1.35</text>
<text x="1214.0" y="792.5" text-anchor="end" fill="#ff0000" textLength="25.2" lengthAdjust="spacingAndGlyphs" >2.13</text>
<text x="1230.5" y="792.5" >[1]</text>
<text x="894.5" y="809.5" textLength="140.2" lengthAdjust="spacingAndGlyphs" >3km Vorticity Gen. Pot.:</text>
<text x="1124.5" y="809.5" text-anchor="end" fill="#ff0000" textLength="25.2" lengthAdjust="spacingAndGlyphs" >0.20</text>
<text x="1214.0" y="809.5" text-anchor="end" fill="#ff0000" textLength="25.2" lengthAdjust="spacingAndGlyphs" >0.26</text>
<text x="1230.5" y="809.5" textLength="40.9" lengthAdjust="spacingAndGlyphs" >[m/s^2]</text>
<rect x="729" y="827" width="15" height="8" fill="#ff0000"/>
<text x="753.5" y="835.5" fill="#ff0000" textLength="111.4" lengthAdjust="spacingAndGlyphs" >Temperature Profile</text>
<rect x="729" y="847" width="15" height="8" fill="#00ffff"/>
<text x="753.5" y="855.5" fill="#00ffff" textLength="91.8" lengthAdjust="spacingAndGlyphs" >Dewpoint Profile</text>
<rect x="729" y="867" width="15" height="8" fill="#00ff00"/>
<text x="753.5" y="875.5" fill="#00ff00" textLength="136.3" lengthAdjust="spacingAndGlyphs" >OBS Windspeed Profile</text>
<rect x="729" y="887" width="15" height="8" fill="#ff0080"/>
<text x="753.5" y="895.5" fill="#ff0080" textLength="126.3" lengthAdjust="spacingAndGlyphs" >SR Windspeed Profile</text>
<rect x="729" y="907" width="15" height="8" fill="#c8c800"/>
<text x="753.5" y="915.5" fill="#c8c800" textLength="222.4" lengthAdjust="spacingAndGlyphs" >Sfc-3km Storm Relative Helicity Profile</text>
<rect x="729" y="927" width="15" height="8" fill="#404000"/>
<text x="753.5" y="935.5" fill="#404000" textLength="204.6" lengthAdjust="spacingAndGlyphs" >Effective Layer (CAPE &gt;= 100 J/kg)</text>
<rect x="1079" y="827" width="15" height="8" fill="#00ff00"/>
<text x="1103.5" y="835.5" fill="#00ff00" textLength="182.9" lengthAdjust="spacingAndGlyphs" >No / Non Severe Thunderstorms</text>
<rect x="1079" y="847" width="15" height="8" fill="#ffff00"/>
<text x="1103.5" y="855.5" fill="#ffff00" textLength="211.0" lengthAdjust="spacingAndGlyphs" >Scattered / Moderate Thunderstorms</text>
<rect x="1079" y="867" width="15" height="8" fill="#ff0000"/>
<text x="1103.5" y="875.5" fill="#ff0000" textLength="209.2" lengthAdjust="spacingAndGlyphs" >Widespread / Severe Thunderstorms</text>
</svg>
</body></html>
